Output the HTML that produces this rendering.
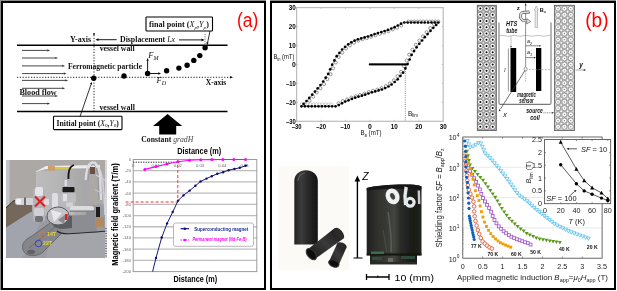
<!DOCTYPE html>
<html><head><meta charset="utf-8"><style>
html,body{margin:0;padding:0;background:#fff;}
body{width:617px;height:291px;overflow:hidden;font-family:"Liberation Sans",sans-serif;}
svg{display:block;will-change:transform;}
</style></head><body>
<svg width="617" height="291" viewBox="0 0 617 291">
<rect x="0" y="0" width="266" height="1" fill="#8c8c8c"/>
<rect x="270" y="0" width="346" height="1" fill="#8c8c8c"/>
<rect x="0" y="0" width="1" height="290" fill="#8c8c8c"/>
<rect x="2" y="2" width="263" height="287" fill="none" stroke="#000" stroke-width="2"/>
<rect x="271" y="2" width="344" height="287" fill="none" stroke="#000" stroke-width="2"/>
<text x="237" y="27.4" font-family="'Liberation Sans', sans-serif" font-size="19.6" fill="#ff0000" font-weight="normal" font-style="normal" text-anchor="start" textLength="21.3" lengthAdjust="spacingAndGlyphs" >(a)</text>
<rect x="146" y="17" width="66.5" height="14" rx="0.8" fill="#fff" stroke="#000" stroke-width="1.1"/>
<text x="149" y="27" font-family="'Liberation Serif', serif" font-size="7.6" font-weight="bold" fill="#111" textLength="60" lengthAdjust="spacingAndGlyphs">final point (<tspan font-style="italic" font-weight="normal">X</tspan><tspan font-size="5" dy="1.5" font-style="italic" font-weight="normal">p</tspan><tspan dy="-1.5">,</tspan><tspan font-style="italic" font-weight="normal">Y</tspan><tspan font-size="5" dy="1.5" font-style="italic" font-weight="normal">p</tspan><tspan dy="-1.5">)</tspan></text>
<text x="70" y="42" font-family="'Liberation Serif', serif" font-size="8" fill="#111" font-weight="bold" font-style="normal" text-anchor="start" textLength="21" lengthAdjust="spacingAndGlyphs" >Y-axis</text>
<line x1="94" y1="35" x2="94" y2="111" stroke="#222" stroke-width="1" stroke-dasharray="1.2,1.6"/>
<circle cx="94" cy="34" r="0.9" fill="#000"/>
<text x="120" y="41.6" font-family="'Liberation Serif', serif" font-size="7.8" font-weight="bold" fill="#111" textLength="55" lengthAdjust="spacingAndGlyphs">Displacement <tspan font-style="italic" font-weight="normal">Lx</tspan></text>
<line x1="98" y1="39.7" x2="116.7" y2="39.7" stroke="#000" stroke-width="0.9" />
<polygon points="95.50,39.70 98.50,38.30 98.50,41.10" fill="#000"/>
<line x1="179" y1="39.9" x2="202" y2="39.9" stroke="#000" stroke-width="0.9" />
<polygon points="204.50,39.90 201.50,41.30 201.50,38.50" fill="#000"/>
<line x1="205" y1="34" x2="205" y2="45" stroke="#333" stroke-width="0.8" stroke-dasharray="1,1.3"/>
<line x1="210" y1="31" x2="207.5" y2="43" stroke="#000" stroke-width="0.8" />
<polygon points="207.00,45.00 206.35,42.30 208.70,42.81" fill="#000"/>
<line x1="17" y1="45.2" x2="227.5" y2="45.2" stroke="#000" stroke-width="1.4" />
<line x1="17" y1="111.5" x2="227.5" y2="111.5" stroke="#000" stroke-width="1.4" />
<text x="99.7" y="50.8" font-family="'Liberation Serif', serif" font-size="7.9" fill="#111" font-weight="bold" font-style="normal" text-anchor="start" textLength="35" lengthAdjust="spacingAndGlyphs" >vessel wall</text>
<text x="99.4" y="109.6" font-family="'Liberation Serif', serif" font-size="7.9" fill="#111" font-weight="bold" font-style="normal" text-anchor="start" textLength="35.5" lengthAdjust="spacingAndGlyphs" >vessel wall</text>
<line x1="22" y1="50.4" x2="48" y2="50.4" stroke="#333" stroke-width="0.9" />
<polygon points="50.00,50.40 47.40,51.50 47.40,49.30" fill="#333"/>
<line x1="22" y1="58.0" x2="56" y2="58.0" stroke="#333" stroke-width="0.9" />
<polygon points="58.00,58.00 55.40,59.10 55.40,56.90" fill="#333"/>
<line x1="22" y1="65.9" x2="63" y2="65.9" stroke="#333" stroke-width="0.9" />
<polygon points="65.00,65.90 62.40,67.00 62.40,64.80" fill="#333"/>
<line x1="22" y1="73.6" x2="64.5" y2="73.6" stroke="#333" stroke-width="0.9" />
<polygon points="66.50,73.60 63.90,74.70 63.90,72.50" fill="#333"/>
<line x1="22" y1="80.4" x2="66" y2="80.4" stroke="#333" stroke-width="0.9" />
<polygon points="68.00,80.40 65.40,81.50 65.40,79.30" fill="#333"/>
<line x1="22" y1="88.3" x2="63" y2="88.3" stroke="#333" stroke-width="0.9" />
<polygon points="65.00,88.30 62.40,89.40 62.40,87.20" fill="#333"/>
<line x1="22" y1="96.0" x2="56" y2="96.0" stroke="#333" stroke-width="0.9" />
<polygon points="58.00,96.00 55.40,97.10 55.40,94.90" fill="#333"/>
<line x1="22" y1="103.6" x2="48" y2="103.6" stroke="#333" stroke-width="0.9" />
<polygon points="50.00,103.60 47.40,104.70 47.40,102.50" fill="#333"/>
<text x="68" y="69.4" font-family="'Liberation Serif', serif" font-size="7.9" fill="#111" font-weight="bold" font-style="normal" text-anchor="start" textLength="74" lengthAdjust="spacingAndGlyphs" >Ferromagnetic particle</text>
<line x1="17" y1="77.3" x2="230" y2="77.3" stroke="#222" stroke-width="1" stroke-dasharray="1.2,1.6"/>
<polygon points="233.00,77.30 230.00,78.60 230.00,76.00" fill="#000"/>
<text x="205.8" y="84.5" font-family="'Liberation Serif', serif" font-size="7.9" fill="#111" font-weight="bold" font-style="normal" text-anchor="start" textLength="20.5" lengthAdjust="spacingAndGlyphs" >X-axis</text>
<circle cx="93.7" cy="78.2" r="2.7" fill="#000"/>
<circle cx="124" cy="76" r="2.7" fill="#000"/>
<circle cx="147.6" cy="73.5" r="2.7" fill="#000"/>
<circle cx="166.6" cy="70.8" r="2.7" fill="#000"/>
<circle cx="178.9" cy="68.1" r="2.7" fill="#000"/>
<circle cx="187.1" cy="65.3" r="2.7" fill="#000"/>
<circle cx="193.8" cy="60.4" r="2.7" fill="#000"/>
<circle cx="199.8" cy="55.6" r="2.7" fill="#000"/>
<circle cx="205.1" cy="47.7" r="2.7" fill="#000"/>
<line x1="147.6" y1="73.5" x2="147.6" y2="60.5" stroke="#000" stroke-width="0.9" />
<polygon points="147.60,58.00 148.80,60.80 146.40,60.80" fill="#000"/>
<line x1="147.6" y1="73.5" x2="158.5" y2="73.5" stroke="#000" stroke-width="0.9" />
<polygon points="161.00,73.50 158.20,74.70 158.20,72.30" fill="#000"/>
<text x="148.3" y="58.3" font-family="'Liberation Serif', serif" font-size="8.4" font-style="italic" fill="#111">F<tspan font-size="6" dy="1.6">M</tspan></text>
<text x="156.6" y="83" font-family="'Liberation Serif', serif" font-size="8.4" font-style="italic" fill="#111">F<tspan font-size="6" dy="1.8">D</tspan></text>
<text x="19.4" y="94.7" font-family="'Liberation Serif', serif" font-size="7.9" fill="#111" font-weight="bold" font-style="normal" text-anchor="start" textLength="37.3" lengthAdjust="spacingAndGlyphs" >Blood flow</text>
<rect x="53.5" y="116.3" width="68.5" height="13.3" rx="0.8" fill="#fff" stroke="#000" stroke-width="1.1"/>
<text x="56.5" y="125.8" font-family="'Liberation Serif', serif" font-size="7.6" font-weight="bold" fill="#111" textLength="62.4" lengthAdjust="spacingAndGlyphs">Initial point (<tspan font-style="italic" font-weight="normal">X</tspan><tspan font-size="5" dy="1.5" font-style="italic" font-weight="normal">0</tspan><tspan dy="-1.5">,</tspan><tspan font-style="italic" font-weight="normal">Y</tspan><tspan font-size="5" dy="1.5" font-style="italic" font-weight="normal">0</tspan><tspan dy="-1.5">)</tspan></text>
<line x1="80" y1="116.5" x2="91" y2="84.5" stroke="#000" stroke-width="0.8" />
<polygon points="91.80,82.00 92.09,84.85 89.82,84.07" fill="#000"/>
<polygon points="167.6,114 182.2,125.9 176.2,125.9 176.2,134.6 159.2,134.6 159.2,125.9 153,125.9" fill="#000"/>
<text x="141.3" y="141.6" font-family="'Liberation Serif', serif" font-size="7.8" font-weight="bold" fill="#111" textLength="52" lengthAdjust="spacingAndGlyphs">Constant <tspan font-style="italic" font-weight="normal" fill="#444">gradH</tspan></text>
<line x1="133.2" y1="170.71" x2="256.8" y2="170.71" stroke="#bdbdbd" stroke-width="1.3" />
<line x1="133.2" y1="181.92000000000002" x2="256.8" y2="181.92000000000002" stroke="#bdbdbd" stroke-width="1.3" />
<line x1="133.2" y1="193.13" x2="256.8" y2="193.13" stroke="#bdbdbd" stroke-width="1.3" />
<line x1="133.2" y1="204.34" x2="256.8" y2="204.34" stroke="#bdbdbd" stroke-width="1.3" />
<line x1="133.2" y1="215.55" x2="256.8" y2="215.55" stroke="#bdbdbd" stroke-width="1.3" />
<line x1="133.2" y1="226.76000000000002" x2="256.8" y2="226.76000000000002" stroke="#bdbdbd" stroke-width="1.3" />
<line x1="133.2" y1="237.97000000000003" x2="256.8" y2="237.97000000000003" stroke="#bdbdbd" stroke-width="1.3" />
<line x1="133.2" y1="249.18" x2="256.8" y2="249.18" stroke="#bdbdbd" stroke-width="1.3" />
<line x1="133.2" y1="260.39000000000004" x2="256.8" y2="260.39000000000004" stroke="#bdbdbd" stroke-width="1.3" />
<rect x="133.2" y="159.5" width="123.60000000000002" height="112.10000000000002" fill="none" stroke="#9a9a9a" stroke-width="1"/>
<text x="131" y="161.0" font-family="'Liberation Sans', sans-serif" font-size="4.2" fill="#666" font-weight="normal" font-style="normal" text-anchor="end" >0</text>
<text x="131" y="172.21" font-family="'Liberation Sans', sans-serif" font-size="4.2" fill="#666" font-weight="normal" font-style="normal" text-anchor="end" >-20</text>
<text x="131" y="183.42000000000002" font-family="'Liberation Sans', sans-serif" font-size="4.2" fill="#666" font-weight="normal" font-style="normal" text-anchor="end" >-40</text>
<text x="131" y="194.63" font-family="'Liberation Sans', sans-serif" font-size="4.2" fill="#666" font-weight="normal" font-style="normal" text-anchor="end" >-60</text>
<text x="131" y="205.84" font-family="'Liberation Sans', sans-serif" font-size="4.2" fill="#666" font-weight="normal" font-style="normal" text-anchor="end" >-80</text>
<text x="131" y="217.05" font-family="'Liberation Sans', sans-serif" font-size="4.2" fill="#666" font-weight="normal" font-style="normal" text-anchor="end" >-100</text>
<text x="131" y="228.26000000000002" font-family="'Liberation Sans', sans-serif" font-size="4.2" fill="#666" font-weight="normal" font-style="normal" text-anchor="end" >-120</text>
<text x="131" y="239.47000000000003" font-family="'Liberation Sans', sans-serif" font-size="4.2" fill="#666" font-weight="normal" font-style="normal" text-anchor="end" >-140</text>
<text x="131" y="250.68" font-family="'Liberation Sans', sans-serif" font-size="4.2" fill="#666" font-weight="normal" font-style="normal" text-anchor="end" >-160</text>
<text x="131" y="261.89000000000004" font-family="'Liberation Sans', sans-serif" font-size="4.2" fill="#666" font-weight="normal" font-style="normal" text-anchor="end" >-180</text>
<text x="131" y="273.1" font-family="'Liberation Sans', sans-serif" font-size="4.2" fill="#666" font-weight="normal" font-style="normal" text-anchor="end" >-200</text>
<text x="133.2" y="166.8" font-family="'Liberation Sans', sans-serif" font-size="4.2" fill="#666" font-weight="normal" font-style="normal" text-anchor="middle" >0</text>
<text x="155.48" y="166.8" font-family="'Liberation Sans', sans-serif" font-size="4.2" fill="#666" font-weight="normal" font-style="normal" text-anchor="middle" >0.01</text>
<text x="177.76" y="166.8" font-family="'Liberation Sans', sans-serif" font-size="4.2" fill="#666" font-weight="normal" font-style="normal" text-anchor="middle" >0.02</text>
<text x="200.04" y="166.8" font-family="'Liberation Sans', sans-serif" font-size="4.2" fill="#666" font-weight="normal" font-style="normal" text-anchor="middle" >0.03</text>
<text x="222.32" y="166.8" font-family="'Liberation Sans', sans-serif" font-size="4.2" fill="#666" font-weight="normal" font-style="normal" text-anchor="middle" >0.04</text>
<text x="244.6" y="166.8" font-family="'Liberation Sans', sans-serif" font-size="4.2" fill="#666" font-weight="normal" font-style="normal" text-anchor="middle" >0.05</text>
<text x="177.2" y="154.3" font-family="'Liberation Sans', sans-serif" font-size="8.6" fill="#000" font-weight="bold" font-style="normal" text-anchor="start" textLength="44" lengthAdjust="spacingAndGlyphs" >Distance (m)</text>
<text x="173.6" y="282.3" font-family="'Liberation Sans', sans-serif" font-size="8.6" fill="#000" font-weight="bold" font-style="normal" text-anchor="start" textLength="43.5" lengthAdjust="spacingAndGlyphs" >Distance (m)</text>
<text transform="translate(117.8,265.8) rotate(-90)" font-family="'Liberation Sans', sans-serif" font-size="8.6" font-weight="bold" fill="#000" textLength="102.5" lengthAdjust="spacingAndGlyphs">Magnetic field gradient (T/m)</text>
<line x1="133.2" y1="162.2" x2="178" y2="162.2" stroke="#000" stroke-width="0.9" stroke-dasharray="1.2,1.3"/>
<line x1="177.8" y1="160" x2="177.8" y2="202" stroke="#ff3030" stroke-width="1" stroke-dasharray="3,2"/>
<line x1="125.6" y1="202" x2="178" y2="202" stroke="#ff3030" stroke-width="1.1" stroke-dasharray="3,2"/>
<polyline points="144.9,169.4 156,166.6 167,164 178,161.8 189.5,160.3 200.8,159.8 211.8,159.6 222.8,159.5 233.8,159.5 245.5,159.5" fill="none" stroke="#ff00ff" stroke-width="1.1"/>
<circle cx="144.9" cy="169.4" r="1.5" fill="#ff00ff"/>
<circle cx="156" cy="166.6" r="1.5" fill="#ff00ff"/>
<circle cx="167" cy="164" r="1.5" fill="#ff00ff"/>
<circle cx="178" cy="161.8" r="1.5" fill="#ff00ff"/>
<circle cx="189.5" cy="160.3" r="1.5" fill="#ff00ff"/>
<circle cx="200.8" cy="159.8" r="1.5" fill="#ff00ff"/>
<circle cx="211.8" cy="159.6" r="1.5" fill="#ff00ff"/>
<circle cx="222.8" cy="159.5" r="1.5" fill="#ff00ff"/>
<circle cx="233.8" cy="159.5" r="1.5" fill="#ff00ff"/>
<circle cx="245.5" cy="159.5" r="1.5" fill="#ff00ff"/>
<polyline points="152.6,271.6 156,257.9 161.7,237.5 167.1,223.4 172.7,212 178.1,200.6 183.4,195.4 189.7,190.6 195.4,185.8 200.5,181.5 206.5,178.6 211.8,176.2 217.3,173.8 223.1,172.2 228.6,170.2 234.4,168.9 239.8,167.8 245.5,165.8 247.5,165.2" fill="none" stroke="#1a1a80" stroke-width="1"/>
<circle cx="156" cy="257.9" r="1.2" fill="#10106a"/>
<circle cx="161.7" cy="237.5" r="1.2" fill="#10106a"/>
<circle cx="167.1" cy="223.4" r="1.2" fill="#10106a"/>
<circle cx="172.7" cy="212" r="1.2" fill="#10106a"/>
<circle cx="178.1" cy="200.6" r="1.2" fill="#10106a"/>
<circle cx="183.4" cy="195.4" r="1.2" fill="#10106a"/>
<circle cx="189.7" cy="190.6" r="1.2" fill="#10106a"/>
<circle cx="195.4" cy="185.8" r="1.2" fill="#10106a"/>
<circle cx="200.5" cy="181.5" r="1.2" fill="#10106a"/>
<circle cx="206.5" cy="178.6" r="1.2" fill="#10106a"/>
<circle cx="211.8" cy="176.2" r="1.2" fill="#10106a"/>
<circle cx="217.3" cy="173.8" r="1.2" fill="#10106a"/>
<circle cx="223.1" cy="172.2" r="1.2" fill="#10106a"/>
<circle cx="228.6" cy="170.2" r="1.2" fill="#10106a"/>
<circle cx="234.4" cy="168.9" r="1.2" fill="#10106a"/>
<circle cx="239.8" cy="167.8" r="1.2" fill="#10106a"/>
<circle cx="245.5" cy="165.8" r="1.2" fill="#10106a"/>
<rect x="173.5" y="223" width="80" height="23.3" rx="2" fill="#fff" stroke="#b0b0b0" stroke-width="0.9"/>
<line x1="180.5" y1="228.7" x2="189" y2="228.7" stroke="#1a1a80" stroke-width="1.2" />
<circle cx="184.8" cy="228.7" r="1.3" fill="#10106a"/>
<text x="194.2" y="230.8" font-family="'Liberation Sans', sans-serif" font-size="5.9" fill="#1a2a90" font-weight="bold" font-style="normal" text-anchor="start" textLength="54" lengthAdjust="spacingAndGlyphs" >Superconducting magnet</text>
<line x1="180.5" y1="240" x2="189" y2="240" stroke="#ff00ff" stroke-width="1.1" stroke-dasharray="1.5,1"/>
<circle cx="184.8" cy="240" r="1.3" fill="#ff00ff"/>
<text x="192.5" y="241.0" font-family="'Liberation Sans', sans-serif" font-size="5.3" fill="#ff00ff" font-weight="bold" font-style="italic" text-anchor="start" textLength="54" lengthAdjust="spacingAndGlyphs" >Permanent magnet (Nd-Fe-B)</text>
<defs><clipPath id="cpA"><rect x="6" y="160" width="101" height="98"/></clipPath><filter id="blA" x="-5%" y="-5%" width="110%" height="110%"><feGaussianBlur stdDeviation="0.6"/></filter><linearGradient id="gTable" x1="0" y1="0" x2="1" y2="1"><stop offset="0" stop-color="#a7a9b1"/><stop offset="1" stop-color="#9c9ea6"/></linearGradient><linearGradient id="gPanel" x1="0" y1="0" x2="1" y2="0"><stop offset="0" stop-color="#bcbcbc"/><stop offset="0.5" stop-color="#b4b4b4"/><stop offset="1" stop-color="#a6a6a6"/></linearGradient><linearGradient id="gFront" x1="0" y1="0" x2="0" y2="1"><stop offset="0" stop-color="#9fa1a7"/><stop offset="1" stop-color="#a6a8ae"/></linearGradient></defs>
<g clip-path="url(#cpA)"><g filter="url(#blA)">
<rect x="4" y="158" width="106" height="104" fill="#aca8a6"/>
<rect x="4" y="158" width="5.5" height="52" fill="#c3c4cc"/>
<rect x="4" y="158" width="106" height="2" fill="#8a8888"/>
<polygon points="4,209 14,200 18,201 8,210" fill="#3a2e26"/>
<polygon points="4,210 14,201 32,201 32,212 4,230" fill="#74685a"/>
<polygon points="4,229 30,212.5 60,207 108,204 108,262 4,262" fill="#9a9ca4"/>
<polygon points="4,229 30,212.5 45,210 35,235 20,262 4,262" fill="#a2a4ad"/>
<polygon points="50,240 60,233 108,232 108,262 45,262" fill="#a3a5ab"/>
<path d="M23,250 C21,243 26,239 32,236 L61,215 L73,222 L45,250 C40,257 26,258 23,250 Z" fill="#84868c" stroke="#5c5e62" stroke-width="0.8"/>
<path d="M29,248 L61,222" stroke="#6a6c70" stroke-width="1"/>
<ellipse cx="31" cy="252" rx="4" ry="2.3" fill="#606266"/>
<polygon points="58,212 95,210 97,232 62,234" fill="#8c8d92"/>
<path d="M57,231 C62,236 80,233 108,231" fill="none" stroke="#2a2a2c" stroke-width="1.1"/>
<path d="M52,222 C52,217 58,214 66,215 L72,216 L72,228 L62,229 C55,228 52,226 52,222 Z" fill="#5a5c60"/>
<polygon points="36,171 86,169 86,215 36,216" fill="url(#gPanel)"/>
<polygon points="35,172 46,166 100,165 100,168 46,169" fill="#ececec"/>
<rect x="48" y="165.8" width="7" height="5" fill="#c8a070"/>
<rect x="55" y="167" width="15" height="2.5" fill="#d6c84a"/>
<path d="M86,196 C85,180 86,166 91,163 C96,161 99,166 100,175 L101,200" fill="none" stroke="#dcdce6" stroke-width="2.4"/>
<path d="M88,196 C88,180 88,168 92,165 C95,164 97,168 98,176 L99,200" fill="none" stroke="#8e8e96" stroke-width="0.8"/>
<rect x="90" y="167" width="5" height="7" fill="#6a5040"/>
<path d="M100,170 C103,175 104,190 105,215" fill="none" stroke="#d0d0d8" stroke-width="1.6"/>
<path d="M96,175 L108,182" stroke="#d4d4da" stroke-width="1.2"/>
<path d="M95,190 L108,195" stroke="#c8c8ce" stroke-width="1"/>
<rect x="105" y="160" width="3" height="98" fill="#d6d6d8"/>
<rect x="15" y="198" width="20" height="7" rx="3" fill="#d4d4d8"/>
<rect x="16" y="199" width="5" height="5" rx="1" fill="#f2f2f4"/>
<rect x="24" y="197.5" width="2" height="8" fill="#6a6a6e"/>
<rect x="33" y="188" width="12" height="34" rx="3" fill="#b4b4b8"/>
<rect x="35" y="187" width="8" height="9" rx="2" fill="#e4e4e8"/>
<rect x="34" y="208" width="10" height="8" rx="2" fill="#d0d0d4"/>
<rect x="35" y="216" width="8" height="6" rx="2" fill="#707074"/>
<rect x="44" y="199" width="8" height="6" rx="2" fill="#dcdce0"/>
<rect x="49" y="194" width="26" height="21" rx="3" fill="#b8b8bc"/>
<rect x="52" y="193" width="6" height="16" rx="2" fill="#dedee2"/>
<rect x="66" y="195" width="7" height="12" rx="2" fill="#d2d2d6"/>
<ellipse cx="58" cy="216" rx="11" ry="9" fill="#c4c4c8" stroke="#5c5c60" stroke-width="1"/>
<polygon points="51,210 62,213 54,222" fill="#e8e8ec"/>
<polygon points="58,220 66,214 64,224" fill="#8a8a8e"/>
<rect x="70" y="206" width="24" height="5.5" rx="2.5" fill="#dcdce0"/>
<rect x="70" y="210.5" width="24" height="1.2" fill="#707074"/>
<rect x="96" y="207" width="4" height="10" fill="#1e1e1e"/>
<rect x="95" y="217" width="9" height="10" fill="#b08a60"/>
<rect x="83" y="180" width="6" height="26" rx="2" fill="#a8a8ac"/>
<path d="M74,165 C70,166 68,172 68.5,180" fill="none" stroke="#151515" stroke-width="1.8"/>
<rect x="63" y="179" width="11" height="8.5" rx="1.5" fill="#b0b0b4"/>
<rect x="64.5" y="180" width="2.5" height="6" fill="#dcdce0"/>
<rect x="62.5" y="187" width="12" height="5.5" rx="1" fill="#1c1c1e"/>
<rect x="61" y="192.5" width="15" height="10" rx="2" fill="#bebec2"/>
<rect x="63" y="194" width="4" height="7" fill="#e2e2e6"/>
<path d="M35,196.5 L45,206.5 M45,196.5 L35,206.5" stroke="#e01c1c" stroke-width="2"/>
<rect x="65" y="214" width="2.6" height="6" fill="#e01c1c"/>
<circle cx="42.5" cy="234.7" r="3" fill="none" stroke="#e07a30" stroke-width="0.8"/>
<circle cx="38.5" cy="243.5" r="3.3" fill="none" stroke="#2838d8" stroke-width="0.8"/>
<text x="47" y="236.3" font-family="'Liberation Sans', sans-serif" font-size="5.2" font-weight="bold" fill="#e8d838">14T</text>
<text x="43" y="245.3" font-family="'Liberation Sans', sans-serif" font-size="5.2" font-weight="bold" fill="#e8d838">22T</text>
</g></g>
<line x1="106" y1="228" x2="106" y2="257" stroke="#222" stroke-width="1" stroke-dasharray="1,1.5"/>
<rect x="296.6" y="7.6" width="146.6" height="113.7" fill="none" stroke="#bcbcbc" stroke-width="1.2"/>
<line x1="321.03999999999996" y1="7.550000000000004" x2="321.03999999999996" y2="9.050000000000004" stroke="#bcbcbc" stroke-width="0.8" />
<line x1="321.03999999999996" y1="121.25" x2="321.03999999999996" y2="119.75" stroke="#bcbcbc" stroke-width="0.8" />
<line x1="296.60999999999996" y1="102.30000000000001" x2="298.10999999999996" y2="102.30000000000001" stroke="#bcbcbc" stroke-width="0.8" />
<line x1="443.19" y1="102.30000000000001" x2="441.69" y2="102.30000000000001" stroke="#bcbcbc" stroke-width="0.8" />
<line x1="345.46999999999997" y1="7.550000000000004" x2="345.46999999999997" y2="9.050000000000004" stroke="#bcbcbc" stroke-width="0.8" />
<line x1="345.46999999999997" y1="121.25" x2="345.46999999999997" y2="119.75" stroke="#bcbcbc" stroke-width="0.8" />
<line x1="296.60999999999996" y1="83.35000000000001" x2="298.10999999999996" y2="83.35000000000001" stroke="#bcbcbc" stroke-width="0.8" />
<line x1="443.19" y1="83.35000000000001" x2="441.69" y2="83.35000000000001" stroke="#bcbcbc" stroke-width="0.8" />
<line x1="369.9" y1="7.550000000000004" x2="369.9" y2="9.050000000000004" stroke="#bcbcbc" stroke-width="0.8" />
<line x1="369.9" y1="121.25" x2="369.9" y2="119.75" stroke="#bcbcbc" stroke-width="0.8" />
<line x1="296.60999999999996" y1="64.4" x2="298.10999999999996" y2="64.4" stroke="#bcbcbc" stroke-width="0.8" />
<line x1="443.19" y1="64.4" x2="441.69" y2="64.4" stroke="#bcbcbc" stroke-width="0.8" />
<line x1="394.33" y1="7.550000000000004" x2="394.33" y2="9.050000000000004" stroke="#bcbcbc" stroke-width="0.8" />
<line x1="394.33" y1="121.25" x2="394.33" y2="119.75" stroke="#bcbcbc" stroke-width="0.8" />
<line x1="296.60999999999996" y1="45.45" x2="298.10999999999996" y2="45.45" stroke="#bcbcbc" stroke-width="0.8" />
<line x1="443.19" y1="45.45" x2="441.69" y2="45.45" stroke="#bcbcbc" stroke-width="0.8" />
<line x1="418.76" y1="7.550000000000004" x2="418.76" y2="9.050000000000004" stroke="#bcbcbc" stroke-width="0.8" />
<line x1="418.76" y1="121.25" x2="418.76" y2="119.75" stroke="#bcbcbc" stroke-width="0.8" />
<line x1="296.60999999999996" y1="26.500000000000007" x2="298.10999999999996" y2="26.500000000000007" stroke="#bcbcbc" stroke-width="0.8" />
<line x1="443.19" y1="26.500000000000007" x2="441.69" y2="26.500000000000007" stroke="#bcbcbc" stroke-width="0.8" />
<text x="295.8" y="10.150000000000004" font-family="'Liberation Sans', sans-serif" font-size="7.2" fill="#000" font-weight="bold" font-style="normal" text-anchor="end" textLength="7.0" lengthAdjust="spacingAndGlyphs" >30</text>
<text x="295.8" y="29.10000000000001" font-family="'Liberation Sans', sans-serif" font-size="7.2" fill="#000" font-weight="bold" font-style="normal" text-anchor="end" textLength="7.0" lengthAdjust="spacingAndGlyphs" >20</text>
<text x="295.8" y="48.050000000000004" font-family="'Liberation Sans', sans-serif" font-size="7.2" fill="#000" font-weight="bold" font-style="normal" text-anchor="end" textLength="7.0" lengthAdjust="spacingAndGlyphs" >10</text>
<text x="295.8" y="67.0" font-family="'Liberation Sans', sans-serif" font-size="7.2" fill="#000" font-weight="bold" font-style="normal" text-anchor="end" textLength="3.8" lengthAdjust="spacingAndGlyphs" >0</text>
<text x="295.8" y="85.95" font-family="'Liberation Sans', sans-serif" font-size="7.2" fill="#000" font-weight="bold" font-style="normal" text-anchor="end" textLength="9.8" lengthAdjust="spacingAndGlyphs" >&#8211;10</text>
<text x="295.8" y="104.9" font-family="'Liberation Sans', sans-serif" font-size="7.2" fill="#000" font-weight="bold" font-style="normal" text-anchor="end" textLength="9.8" lengthAdjust="spacingAndGlyphs" >&#8211;20</text>
<text x="295.8" y="123.85" font-family="'Liberation Sans', sans-serif" font-size="7.2" fill="#000" font-weight="bold" font-style="normal" text-anchor="end" textLength="9.8" lengthAdjust="spacingAndGlyphs" >&#8211;30</text>
<text x="296.60999999999996" y="129.3" font-family="'Liberation Sans', sans-serif" font-size="7.2" fill="#000" font-weight="bold" font-style="normal" text-anchor="middle" textLength="9.8" lengthAdjust="spacingAndGlyphs" >&#8211;30</text>
<text x="321.03999999999996" y="129.3" font-family="'Liberation Sans', sans-serif" font-size="7.2" fill="#000" font-weight="bold" font-style="normal" text-anchor="middle" textLength="9.8" lengthAdjust="spacingAndGlyphs" >&#8211;20</text>
<text x="345.46999999999997" y="129.3" font-family="'Liberation Sans', sans-serif" font-size="7.2" fill="#000" font-weight="bold" font-style="normal" text-anchor="middle" textLength="9.8" lengthAdjust="spacingAndGlyphs" >&#8211;10</text>
<text x="369.9" y="129.3" font-family="'Liberation Sans', sans-serif" font-size="7.2" fill="#000" font-weight="bold" font-style="normal" text-anchor="middle" textLength="3.8" lengthAdjust="spacingAndGlyphs" >0</text>
<text x="394.33" y="129.3" font-family="'Liberation Sans', sans-serif" font-size="7.2" fill="#000" font-weight="bold" font-style="normal" text-anchor="middle" textLength="7.0" lengthAdjust="spacingAndGlyphs" >10</text>
<text x="418.76" y="129.3" font-family="'Liberation Sans', sans-serif" font-size="7.2" fill="#000" font-weight="bold" font-style="normal" text-anchor="middle" textLength="7.0" lengthAdjust="spacingAndGlyphs" >20</text>
<text x="443.19" y="129.3" font-family="'Liberation Sans', sans-serif" font-size="7.2" fill="#000" font-weight="bold" font-style="normal" text-anchor="middle" textLength="7.0" lengthAdjust="spacingAndGlyphs" >30</text>
<text x="273.4" y="59.2" font-family="'Liberation Sans', sans-serif" font-size="6.6" fill="#111" textLength="21" lengthAdjust="spacingAndGlyphs">B<tspan font-size="4.5" dy="1.8">in</tspan><tspan dy="-1.8"> (mT)</tspan></text>
<text x="360.5" y="135" font-family="'Liberation Sans', sans-serif" font-size="6.6" fill="#111" textLength="21" lengthAdjust="spacingAndGlyphs">B<tspan font-size="4.5" dy="1.8">a</tspan><tspan dy="-1.8"> (mT)</tspan></text>
<line x1="405.32349999999997" y1="64.4" x2="405.32349999999997" y2="121.25" stroke="#555" stroke-width="0.7" stroke-dasharray="1,1.2"/>
<text x="408" y="115.5" font-family="'Liberation Sans', sans-serif" font-size="6.5" fill="#111">B<tspan font-size="4.5" dy="1.8">lim</tspan></text>
<polyline points="438.3,22.5 403.1,22.5 395.8,26.7 385.5,30.9 375.3,33.9 367.2,36.7 356.7,39.6 349.6,43.2 342.8,48.7 336.2,56.8 331.8,65.5 328.6,73.3 321.8,83.5 315.2,91.3 308.3,99.1 301.7,105.7" fill="none" stroke="#777" stroke-width="0.6"/>
<polyline points="301.5,106.3 336.7,106.3 344.0,102.1 354.3,97.9 364.5,94.9 372.6,92.1 383.1,89.2 390.2,85.6 397.0,80.1 403.6,72.0 408.0,63.3 411.2,55.5 418.0,45.3 424.6,37.5 431.5,29.7 438.1,23.1" fill="none" stroke="#777" stroke-width="0.6"/>
<circle cx="438.3" cy="21.5" r="1.5" fill="#fff" stroke="#555" stroke-width="0.55"/>
<circle cx="435.3" cy="21.5" r="1.5" fill="#fff" stroke="#555" stroke-width="0.55"/>
<circle cx="432.3" cy="21.5" r="1.5" fill="#fff" stroke="#555" stroke-width="0.55"/>
<circle cx="429.3" cy="21.5" r="1.5" fill="#fff" stroke="#555" stroke-width="0.55"/>
<circle cx="426.3" cy="21.5" r="1.5" fill="#fff" stroke="#555" stroke-width="0.55"/>
<circle cx="423.3" cy="21.5" r="1.5" fill="#fff" stroke="#555" stroke-width="0.55"/>
<circle cx="420.3" cy="21.5" r="1.5" fill="#fff" stroke="#555" stroke-width="0.55"/>
<circle cx="417.3" cy="21.5" r="1.5" fill="#fff" stroke="#555" stroke-width="0.55"/>
<circle cx="414.3" cy="21.5" r="1.5" fill="#fff" stroke="#555" stroke-width="0.55"/>
<circle cx="411.3" cy="21.5" r="1.5" fill="#fff" stroke="#555" stroke-width="0.55"/>
<circle cx="408.3" cy="21.5" r="1.5" fill="#fff" stroke="#555" stroke-width="0.55"/>
<circle cx="401.2" cy="25.5" r="1.55" fill="#fff" stroke="#555" stroke-width="0.6"/>
<circle cx="397.0" cy="27.7" r="1.55" fill="#fff" stroke="#555" stroke-width="0.6"/>
<circle cx="392.7" cy="29.4" r="1.55" fill="#fff" stroke="#555" stroke-width="0.6"/>
<circle cx="388.4" cy="31.2" r="1.55" fill="#fff" stroke="#555" stroke-width="0.6"/>
<circle cx="384.1" cy="32.5" r="1.55" fill="#fff" stroke="#555" stroke-width="0.6"/>
<circle cx="379.8" cy="33.8" r="1.55" fill="#fff" stroke="#555" stroke-width="0.6"/>
<circle cx="375.4" cy="35.2" r="1.55" fill="#fff" stroke="#555" stroke-width="0.6"/>
<circle cx="371.1" cy="36.7" r="1.55" fill="#fff" stroke="#555" stroke-width="0.6"/>
<circle cx="366.8" cy="38.0" r="1.55" fill="#fff" stroke="#555" stroke-width="0.6"/>
<circle cx="362.5" cy="39.2" r="1.55" fill="#fff" stroke="#555" stroke-width="0.6"/>
<circle cx="358.2" cy="40.6" r="1.55" fill="#fff" stroke="#555" stroke-width="0.6"/>
<circle cx="353.9" cy="42.7" r="1.55" fill="#fff" stroke="#555" stroke-width="0.6"/>
<circle cx="349.9" cy="45.4" r="1.55" fill="#fff" stroke="#555" stroke-width="0.6"/>
<circle cx="345.9" cy="48.5" r="1.55" fill="#fff" stroke="#555" stroke-width="0.6"/>
<circle cx="342.3" cy="52.6" r="1.55" fill="#fff" stroke="#555" stroke-width="0.6"/>
<circle cx="338.7" cy="57.0" r="1.55" fill="#fff" stroke="#555" stroke-width="0.6"/>
<circle cx="335.8" cy="62.5" r="1.55" fill="#fff" stroke="#555" stroke-width="0.6"/>
<circle cx="333.1" cy="68.3" r="1.55" fill="#fff" stroke="#555" stroke-width="0.6"/>
<circle cx="330.6" cy="74.2" r="1.55" fill="#fff" stroke="#555" stroke-width="0.6"/>
<circle cx="327.3" cy="79.1" r="1.55" fill="#fff" stroke="#555" stroke-width="0.6"/>
<circle cx="324.0" cy="84.0" r="1.55" fill="#fff" stroke="#555" stroke-width="0.6"/>
<circle cx="320.4" cy="88.3" r="1.55" fill="#fff" stroke="#555" stroke-width="0.6"/>
<circle cx="316.8" cy="92.5" r="1.55" fill="#fff" stroke="#555" stroke-width="0.6"/>
<circle cx="313.2" cy="96.6" r="1.55" fill="#fff" stroke="#555" stroke-width="0.6"/>
<circle cx="309.5" cy="100.7" r="1.55" fill="#fff" stroke="#555" stroke-width="0.6"/>
<circle cx="305.8" cy="104.5" r="1.55" fill="#fff" stroke="#555" stroke-width="0.6"/>
<circle cx="301.5" cy="104.3" r="1.5" fill="#fff" stroke="#aaa" stroke-width="0.55"/>
<circle cx="304.5" cy="104.3" r="1.5" fill="#fff" stroke="#aaa" stroke-width="0.55"/>
<circle cx="307.5" cy="104.3" r="1.5" fill="#fff" stroke="#aaa" stroke-width="0.55"/>
<circle cx="310.5" cy="104.3" r="1.5" fill="#fff" stroke="#aaa" stroke-width="0.55"/>
<circle cx="313.5" cy="104.3" r="1.5" fill="#fff" stroke="#aaa" stroke-width="0.55"/>
<circle cx="316.5" cy="104.3" r="1.5" fill="#fff" stroke="#aaa" stroke-width="0.55"/>
<circle cx="319.5" cy="104.3" r="1.5" fill="#fff" stroke="#aaa" stroke-width="0.55"/>
<circle cx="322.5" cy="104.3" r="1.5" fill="#fff" stroke="#aaa" stroke-width="0.55"/>
<circle cx="325.5" cy="104.3" r="1.5" fill="#fff" stroke="#aaa" stroke-width="0.55"/>
<circle cx="328.5" cy="104.3" r="1.5" fill="#fff" stroke="#aaa" stroke-width="0.55"/>
<circle cx="331.5" cy="104.3" r="1.5" fill="#fff" stroke="#aaa" stroke-width="0.55"/>
<circle cx="338.6" cy="103.3" r="1.55" fill="#fff" stroke="#555" stroke-width="0.6"/>
<circle cx="342.8" cy="101.1" r="1.55" fill="#fff" stroke="#555" stroke-width="0.6"/>
<circle cx="347.1" cy="99.4" r="1.55" fill="#fff" stroke="#555" stroke-width="0.6"/>
<circle cx="351.4" cy="97.6" r="1.55" fill="#fff" stroke="#555" stroke-width="0.6"/>
<circle cx="355.7" cy="96.3" r="1.55" fill="#fff" stroke="#555" stroke-width="0.6"/>
<circle cx="360.0" cy="95.0" r="1.55" fill="#fff" stroke="#555" stroke-width="0.6"/>
<circle cx="364.4" cy="93.6" r="1.55" fill="#fff" stroke="#555" stroke-width="0.6"/>
<circle cx="368.7" cy="92.1" r="1.55" fill="#fff" stroke="#555" stroke-width="0.6"/>
<circle cx="373.0" cy="90.8" r="1.55" fill="#fff" stroke="#555" stroke-width="0.6"/>
<circle cx="377.3" cy="89.6" r="1.55" fill="#fff" stroke="#555" stroke-width="0.6"/>
<circle cx="381.6" cy="88.2" r="1.55" fill="#fff" stroke="#555" stroke-width="0.6"/>
<circle cx="385.9" cy="86.1" r="1.55" fill="#fff" stroke="#555" stroke-width="0.6"/>
<circle cx="389.9" cy="83.4" r="1.55" fill="#fff" stroke="#555" stroke-width="0.6"/>
<circle cx="393.9" cy="80.3" r="1.55" fill="#fff" stroke="#555" stroke-width="0.6"/>
<circle cx="397.5" cy="76.2" r="1.55" fill="#fff" stroke="#555" stroke-width="0.6"/>
<circle cx="401.1" cy="71.8" r="1.55" fill="#fff" stroke="#555" stroke-width="0.6"/>
<circle cx="404.0" cy="66.3" r="1.55" fill="#fff" stroke="#555" stroke-width="0.6"/>
<circle cx="406.7" cy="60.5" r="1.55" fill="#fff" stroke="#555" stroke-width="0.6"/>
<circle cx="409.2" cy="54.6" r="1.55" fill="#fff" stroke="#555" stroke-width="0.6"/>
<circle cx="412.5" cy="49.7" r="1.55" fill="#fff" stroke="#555" stroke-width="0.6"/>
<circle cx="415.8" cy="44.8" r="1.55" fill="#fff" stroke="#555" stroke-width="0.6"/>
<circle cx="419.4" cy="40.5" r="1.55" fill="#fff" stroke="#555" stroke-width="0.6"/>
<circle cx="423.0" cy="36.3" r="1.55" fill="#fff" stroke="#555" stroke-width="0.6"/>
<circle cx="426.6" cy="32.2" r="1.55" fill="#fff" stroke="#555" stroke-width="0.6"/>
<circle cx="430.3" cy="28.1" r="1.55" fill="#fff" stroke="#555" stroke-width="0.6"/>
<circle cx="434.0" cy="24.3" r="1.55" fill="#fff" stroke="#555" stroke-width="0.6"/>
<circle cx="438.3" cy="22.5" r="1.35" fill="#000"/>
<circle cx="434.9" cy="22.5" r="1.35" fill="#000"/>
<circle cx="431.5" cy="22.5" r="1.35" fill="#000"/>
<circle cx="428.1" cy="22.5" r="1.35" fill="#000"/>
<circle cx="424.7" cy="22.5" r="1.35" fill="#000"/>
<circle cx="421.3" cy="22.5" r="1.35" fill="#000"/>
<circle cx="417.9" cy="22.5" r="1.35" fill="#000"/>
<circle cx="414.5" cy="22.5" r="1.35" fill="#000"/>
<circle cx="411.1" cy="22.5" r="1.35" fill="#000"/>
<circle cx="407.7" cy="22.5" r="1.35" fill="#000"/>
<circle cx="404.3" cy="22.5" r="1.35" fill="#000"/>
<circle cx="401.0" cy="23.7" r="1.35" fill="#000"/>
<circle cx="397.8" cy="25.5" r="1.35" fill="#000"/>
<circle cx="394.6" cy="27.2" r="1.35" fill="#000"/>
<circle cx="391.3" cy="28.5" r="1.35" fill="#000"/>
<circle cx="387.9" cy="29.9" r="1.35" fill="#000"/>
<circle cx="384.6" cy="31.1" r="1.35" fill="#000"/>
<circle cx="381.3" cy="32.1" r="1.35" fill="#000"/>
<circle cx="377.9" cy="33.1" r="1.35" fill="#000"/>
<circle cx="374.6" cy="34.1" r="1.35" fill="#000"/>
<circle cx="371.3" cy="35.3" r="1.35" fill="#000"/>
<circle cx="367.9" cy="36.5" r="1.35" fill="#000"/>
<circle cx="364.6" cy="37.4" r="1.35" fill="#000"/>
<circle cx="361.2" cy="38.4" r="1.35" fill="#000"/>
<circle cx="357.9" cy="39.3" r="1.35" fill="#000"/>
<circle cx="354.6" cy="40.7" r="1.35" fill="#000"/>
<circle cx="351.3" cy="42.3" r="1.35" fill="#000"/>
<circle cx="348.2" cy="44.3" r="1.35" fill="#000"/>
<circle cx="345.1" cy="46.8" r="1.35" fill="#000"/>
<circle cx="342.1" cy="49.5" r="1.35" fill="#000"/>
<circle cx="339.4" cy="52.9" r="1.35" fill="#000"/>
<circle cx="336.7" cy="56.2" r="1.35" fill="#000"/>
<circle cx="334.4" cy="60.4" r="1.35" fill="#000"/>
<circle cx="332.2" cy="64.7" r="1.35" fill="#000"/>
<circle cx="330.2" cy="69.3" r="1.35" fill="#000"/>
<circle cx="328.2" cy="73.9" r="1.35" fill="#000"/>
<circle cx="325.7" cy="77.7" r="1.35" fill="#000"/>
<circle cx="323.2" cy="81.5" r="1.35" fill="#000"/>
<circle cx="320.5" cy="85.0" r="1.35" fill="#000"/>
<circle cx="317.7" cy="88.3" r="1.35" fill="#000"/>
<circle cx="315.0" cy="91.6" r="1.35" fill="#000"/>
<circle cx="312.2" cy="94.7" r="1.35" fill="#000"/>
<circle cx="309.3" cy="97.9" r="1.35" fill="#000"/>
<circle cx="306.5" cy="101.0" r="1.35" fill="#000"/>
<circle cx="303.6" cy="103.9" r="1.35" fill="#000"/>
<circle cx="301.5" cy="106.3" r="1.35" fill="#000"/>
<circle cx="304.9" cy="106.3" r="1.35" fill="#000"/>
<circle cx="308.3" cy="106.3" r="1.35" fill="#000"/>
<circle cx="311.7" cy="106.3" r="1.35" fill="#000"/>
<circle cx="315.1" cy="106.3" r="1.35" fill="#000"/>
<circle cx="318.5" cy="106.3" r="1.35" fill="#000"/>
<circle cx="321.9" cy="106.3" r="1.35" fill="#000"/>
<circle cx="325.3" cy="106.3" r="1.35" fill="#000"/>
<circle cx="328.7" cy="106.3" r="1.35" fill="#000"/>
<circle cx="332.1" cy="106.3" r="1.35" fill="#000"/>
<circle cx="335.5" cy="106.3" r="1.35" fill="#000"/>
<circle cx="338.8" cy="105.1" r="1.35" fill="#000"/>
<circle cx="342.0" cy="103.3" r="1.35" fill="#000"/>
<circle cx="345.2" cy="101.6" r="1.35" fill="#000"/>
<circle cx="348.5" cy="100.3" r="1.35" fill="#000"/>
<circle cx="351.9" cy="98.9" r="1.35" fill="#000"/>
<circle cx="355.2" cy="97.7" r="1.35" fill="#000"/>
<circle cx="358.5" cy="96.7" r="1.35" fill="#000"/>
<circle cx="361.9" cy="95.7" r="1.35" fill="#000"/>
<circle cx="365.2" cy="94.7" r="1.35" fill="#000"/>
<circle cx="368.5" cy="93.5" r="1.35" fill="#000"/>
<circle cx="371.9" cy="92.3" r="1.35" fill="#000"/>
<circle cx="375.2" cy="91.4" r="1.35" fill="#000"/>
<circle cx="378.6" cy="90.4" r="1.35" fill="#000"/>
<circle cx="381.9" cy="89.5" r="1.35" fill="#000"/>
<circle cx="385.2" cy="88.1" r="1.35" fill="#000"/>
<circle cx="388.5" cy="86.5" r="1.35" fill="#000"/>
<circle cx="391.6" cy="84.5" r="1.35" fill="#000"/>
<circle cx="394.7" cy="82.0" r="1.35" fill="#000"/>
<circle cx="397.7" cy="79.3" r="1.35" fill="#000"/>
<circle cx="400.4" cy="75.9" r="1.35" fill="#000"/>
<circle cx="403.1" cy="72.6" r="1.35" fill="#000"/>
<circle cx="405.4" cy="68.4" r="1.35" fill="#000"/>
<circle cx="407.6" cy="64.1" r="1.35" fill="#000"/>
<circle cx="409.6" cy="59.5" r="1.35" fill="#000"/>
<circle cx="411.6" cy="54.9" r="1.35" fill="#000"/>
<circle cx="414.1" cy="51.1" r="1.35" fill="#000"/>
<circle cx="416.6" cy="47.3" r="1.35" fill="#000"/>
<circle cx="419.3" cy="43.8" r="1.35" fill="#000"/>
<circle cx="422.1" cy="40.5" r="1.35" fill="#000"/>
<circle cx="424.8" cy="37.2" r="1.35" fill="#000"/>
<circle cx="427.6" cy="34.1" r="1.35" fill="#000"/>
<circle cx="430.5" cy="30.9" r="1.35" fill="#000"/>
<circle cx="433.3" cy="27.8" r="1.35" fill="#000"/>
<circle cx="436.2" cy="24.9" r="1.35" fill="#000"/>
<circle cx="369.9" cy="64.4" r="1.15" fill="#000"/>
<circle cx="371.4" cy="64.4" r="1.15" fill="#000"/>
<circle cx="372.9" cy="64.4" r="1.15" fill="#000"/>
<circle cx="374.4" cy="64.4" r="1.15" fill="#000"/>
<circle cx="375.9" cy="64.4" r="1.15" fill="#000"/>
<circle cx="377.4" cy="64.4" r="1.15" fill="#000"/>
<circle cx="378.9" cy="64.4" r="1.15" fill="#000"/>
<circle cx="380.4" cy="64.4" r="1.15" fill="#000"/>
<circle cx="381.9" cy="64.4" r="1.15" fill="#000"/>
<circle cx="383.4" cy="64.4" r="1.15" fill="#000"/>
<circle cx="384.9" cy="64.4" r="1.15" fill="#000"/>
<circle cx="386.4" cy="64.4" r="1.15" fill="#000"/>
<circle cx="387.9" cy="64.4" r="1.15" fill="#000"/>
<circle cx="389.4" cy="64.4" r="1.15" fill="#000"/>
<circle cx="390.9" cy="64.4" r="1.15" fill="#000"/>
<circle cx="392.4" cy="64.4" r="1.15" fill="#000"/>
<circle cx="393.9" cy="64.4" r="1.15" fill="#000"/>
<circle cx="395.4" cy="64.4" r="1.15" fill="#000"/>
<circle cx="396.9" cy="64.4" r="1.15" fill="#000"/>
<circle cx="398.4" cy="64.4" r="1.15" fill="#000"/>
<circle cx="399.9" cy="64.4" r="1.15" fill="#000"/>
<circle cx="401.4" cy="64.4" r="1.15" fill="#000"/>
<circle cx="402.9" cy="64.4" r="1.15" fill="#000"/>
<circle cx="404.4" cy="64.4" r="1.15" fill="#000"/>
<circle cx="405.9" cy="64.4" r="1.15" fill="#000"/>
<defs><pattern id="stip" width="2" height="2" patternUnits="userSpaceOnUse"><rect width="2" height="2" fill="#fff"/><rect width="1" height="1" fill="#a8a8a8"/><rect x="1" y="1" width="1" height="1" fill="#a8a8a8"/></pattern><pattern id="stip2" width="2" height="2" patternUnits="userSpaceOnUse"><rect width="2" height="2" fill="#fff"/><rect width="1" height="1" fill="#b8b8b8"/><rect x="1" y="1" width="1" height="1" fill="#b8b8b8"/></pattern><pattern id="hexp" width="6.2" height="5.4" patternUnits="userSpaceOnUse" x="555" y="5"><rect width="6.2" height="5.4" fill="#d8d8d8"/><circle cx="1.55" cy="1.35" r="1.35" fill="#fff" stroke="#777" stroke-width="0.55"/><circle cx="4.65" cy="4.05" r="1.35" fill="#fff" stroke="#777" stroke-width="0.55"/><circle cx="1.55" cy="1.35" r="0.4" fill="#999"/><circle cx="4.65" cy="4.05" r="0.4" fill="#999"/></pattern></defs>
<rect x="477.3" y="5.3" width="19" height="125.3" fill="#b4b4b4" stroke="#555" stroke-width="0.8"/>
<circle cx="480.3" cy="8.60" r="2.7" fill="#fff" stroke="#444" stroke-width="0.5"/>
<circle cx="480.3" cy="8.60" r="1.0" fill="#000"/>
<circle cx="486.5" cy="8.60" r="2.7" fill="#fff" stroke="#444" stroke-width="0.5"/>
<circle cx="486.5" cy="8.60" r="1.0" fill="#000"/>
<circle cx="492.7" cy="8.60" r="2.7" fill="#fff" stroke="#444" stroke-width="0.5"/>
<circle cx="492.7" cy="8.60" r="1.0" fill="#000"/>
<rect x="482.8" y="11.11" width="1.2" height="1.2" fill="#f0f0f0"/>
<rect x="489.0" y="11.11" width="1.2" height="1.2" fill="#f0f0f0"/>
<circle cx="480.3" cy="14.82" r="2.7" fill="#fff" stroke="#444" stroke-width="0.5"/>
<circle cx="480.3" cy="14.82" r="1.0" fill="#000"/>
<circle cx="486.5" cy="14.82" r="2.7" fill="#fff" stroke="#444" stroke-width="0.5"/>
<circle cx="486.5" cy="14.82" r="1.0" fill="#000"/>
<circle cx="492.7" cy="14.82" r="2.7" fill="#fff" stroke="#444" stroke-width="0.5"/>
<circle cx="492.7" cy="14.82" r="1.0" fill="#000"/>
<rect x="482.8" y="17.33" width="1.2" height="1.2" fill="#f0f0f0"/>
<rect x="489.0" y="17.33" width="1.2" height="1.2" fill="#f0f0f0"/>
<circle cx="480.3" cy="21.04" r="2.7" fill="#fff" stroke="#444" stroke-width="0.5"/>
<circle cx="480.3" cy="21.04" r="1.0" fill="#000"/>
<circle cx="486.5" cy="21.04" r="2.7" fill="#fff" stroke="#444" stroke-width="0.5"/>
<circle cx="486.5" cy="21.04" r="1.0" fill="#000"/>
<circle cx="492.7" cy="21.04" r="2.7" fill="#fff" stroke="#444" stroke-width="0.5"/>
<circle cx="492.7" cy="21.04" r="1.0" fill="#000"/>
<rect x="482.8" y="23.55" width="1.2" height="1.2" fill="#f0f0f0"/>
<rect x="489.0" y="23.55" width="1.2" height="1.2" fill="#f0f0f0"/>
<circle cx="480.3" cy="27.26" r="2.7" fill="#fff" stroke="#444" stroke-width="0.5"/>
<circle cx="480.3" cy="27.26" r="1.0" fill="#000"/>
<circle cx="486.5" cy="27.26" r="2.7" fill="#fff" stroke="#444" stroke-width="0.5"/>
<circle cx="486.5" cy="27.26" r="1.0" fill="#000"/>
<circle cx="492.7" cy="27.26" r="2.7" fill="#fff" stroke="#444" stroke-width="0.5"/>
<circle cx="492.7" cy="27.26" r="1.0" fill="#000"/>
<rect x="482.8" y="29.77" width="1.2" height="1.2" fill="#f0f0f0"/>
<rect x="489.0" y="29.77" width="1.2" height="1.2" fill="#f0f0f0"/>
<circle cx="480.3" cy="33.48" r="2.7" fill="#fff" stroke="#444" stroke-width="0.5"/>
<circle cx="480.3" cy="33.48" r="1.0" fill="#000"/>
<circle cx="486.5" cy="33.48" r="2.7" fill="#fff" stroke="#444" stroke-width="0.5"/>
<circle cx="486.5" cy="33.48" r="1.0" fill="#000"/>
<circle cx="492.7" cy="33.48" r="2.7" fill="#fff" stroke="#444" stroke-width="0.5"/>
<circle cx="492.7" cy="33.48" r="1.0" fill="#000"/>
<rect x="482.8" y="35.99" width="1.2" height="1.2" fill="#f0f0f0"/>
<rect x="489.0" y="35.99" width="1.2" height="1.2" fill="#f0f0f0"/>
<circle cx="480.3" cy="39.70" r="2.7" fill="#fff" stroke="#444" stroke-width="0.5"/>
<circle cx="480.3" cy="39.70" r="1.0" fill="#000"/>
<circle cx="486.5" cy="39.70" r="2.7" fill="#fff" stroke="#444" stroke-width="0.5"/>
<circle cx="486.5" cy="39.70" r="1.0" fill="#000"/>
<circle cx="492.7" cy="39.70" r="2.7" fill="#fff" stroke="#444" stroke-width="0.5"/>
<circle cx="492.7" cy="39.70" r="1.0" fill="#000"/>
<rect x="482.8" y="42.21" width="1.2" height="1.2" fill="#f0f0f0"/>
<rect x="489.0" y="42.21" width="1.2" height="1.2" fill="#f0f0f0"/>
<circle cx="480.3" cy="45.92" r="2.7" fill="#fff" stroke="#444" stroke-width="0.5"/>
<circle cx="480.3" cy="45.92" r="1.0" fill="#000"/>
<circle cx="486.5" cy="45.92" r="2.7" fill="#fff" stroke="#444" stroke-width="0.5"/>
<circle cx="486.5" cy="45.92" r="1.0" fill="#000"/>
<circle cx="492.7" cy="45.92" r="2.7" fill="#fff" stroke="#444" stroke-width="0.5"/>
<circle cx="492.7" cy="45.92" r="1.0" fill="#000"/>
<rect x="482.8" y="48.43" width="1.2" height="1.2" fill="#f0f0f0"/>
<rect x="489.0" y="48.43" width="1.2" height="1.2" fill="#f0f0f0"/>
<circle cx="480.3" cy="52.14" r="2.7" fill="#fff" stroke="#444" stroke-width="0.5"/>
<circle cx="480.3" cy="52.14" r="1.0" fill="#000"/>
<circle cx="486.5" cy="52.14" r="2.7" fill="#fff" stroke="#444" stroke-width="0.5"/>
<circle cx="486.5" cy="52.14" r="1.0" fill="#000"/>
<circle cx="492.7" cy="52.14" r="2.7" fill="#fff" stroke="#444" stroke-width="0.5"/>
<circle cx="492.7" cy="52.14" r="1.0" fill="#000"/>
<rect x="482.8" y="54.65" width="1.2" height="1.2" fill="#f0f0f0"/>
<rect x="489.0" y="54.65" width="1.2" height="1.2" fill="#f0f0f0"/>
<circle cx="480.3" cy="58.36" r="2.7" fill="#fff" stroke="#444" stroke-width="0.5"/>
<circle cx="480.3" cy="58.36" r="1.0" fill="#000"/>
<circle cx="486.5" cy="58.36" r="2.7" fill="#fff" stroke="#444" stroke-width="0.5"/>
<circle cx="486.5" cy="58.36" r="1.0" fill="#000"/>
<circle cx="492.7" cy="58.36" r="2.7" fill="#fff" stroke="#444" stroke-width="0.5"/>
<circle cx="492.7" cy="58.36" r="1.0" fill="#000"/>
<rect x="482.8" y="60.87" width="1.2" height="1.2" fill="#f0f0f0"/>
<rect x="489.0" y="60.87" width="1.2" height="1.2" fill="#f0f0f0"/>
<circle cx="480.3" cy="64.58" r="2.7" fill="#fff" stroke="#444" stroke-width="0.5"/>
<circle cx="480.3" cy="64.58" r="1.0" fill="#000"/>
<circle cx="486.5" cy="64.58" r="2.7" fill="#fff" stroke="#444" stroke-width="0.5"/>
<circle cx="486.5" cy="64.58" r="1.0" fill="#000"/>
<circle cx="492.7" cy="64.58" r="2.7" fill="#fff" stroke="#444" stroke-width="0.5"/>
<circle cx="492.7" cy="64.58" r="1.0" fill="#000"/>
<rect x="482.8" y="67.09" width="1.2" height="1.2" fill="#f0f0f0"/>
<rect x="489.0" y="67.09" width="1.2" height="1.2" fill="#f0f0f0"/>
<circle cx="480.3" cy="70.80" r="2.7" fill="#fff" stroke="#444" stroke-width="0.5"/>
<circle cx="480.3" cy="70.80" r="1.0" fill="#000"/>
<circle cx="486.5" cy="70.80" r="2.7" fill="#fff" stroke="#444" stroke-width="0.5"/>
<circle cx="486.5" cy="70.80" r="1.0" fill="#000"/>
<circle cx="492.7" cy="70.80" r="2.7" fill="#fff" stroke="#444" stroke-width="0.5"/>
<circle cx="492.7" cy="70.80" r="1.0" fill="#000"/>
<rect x="482.8" y="73.31" width="1.2" height="1.2" fill="#f0f0f0"/>
<rect x="489.0" y="73.31" width="1.2" height="1.2" fill="#f0f0f0"/>
<circle cx="480.3" cy="77.02" r="2.7" fill="#fff" stroke="#444" stroke-width="0.5"/>
<circle cx="480.3" cy="77.02" r="1.0" fill="#000"/>
<circle cx="486.5" cy="77.02" r="2.7" fill="#fff" stroke="#444" stroke-width="0.5"/>
<circle cx="486.5" cy="77.02" r="1.0" fill="#000"/>
<circle cx="492.7" cy="77.02" r="2.7" fill="#fff" stroke="#444" stroke-width="0.5"/>
<circle cx="492.7" cy="77.02" r="1.0" fill="#000"/>
<rect x="482.8" y="79.53" width="1.2" height="1.2" fill="#f0f0f0"/>
<rect x="489.0" y="79.53" width="1.2" height="1.2" fill="#f0f0f0"/>
<circle cx="480.3" cy="83.24" r="2.7" fill="#fff" stroke="#444" stroke-width="0.5"/>
<circle cx="480.3" cy="83.24" r="1.0" fill="#000"/>
<circle cx="486.5" cy="83.24" r="2.7" fill="#fff" stroke="#444" stroke-width="0.5"/>
<circle cx="486.5" cy="83.24" r="1.0" fill="#000"/>
<circle cx="492.7" cy="83.24" r="2.7" fill="#fff" stroke="#444" stroke-width="0.5"/>
<circle cx="492.7" cy="83.24" r="1.0" fill="#000"/>
<rect x="482.8" y="85.75" width="1.2" height="1.2" fill="#f0f0f0"/>
<rect x="489.0" y="85.75" width="1.2" height="1.2" fill="#f0f0f0"/>
<circle cx="480.3" cy="89.46" r="2.7" fill="#fff" stroke="#444" stroke-width="0.5"/>
<circle cx="480.3" cy="89.46" r="1.0" fill="#000"/>
<circle cx="486.5" cy="89.46" r="2.7" fill="#fff" stroke="#444" stroke-width="0.5"/>
<circle cx="486.5" cy="89.46" r="1.0" fill="#000"/>
<circle cx="492.7" cy="89.46" r="2.7" fill="#fff" stroke="#444" stroke-width="0.5"/>
<circle cx="492.7" cy="89.46" r="1.0" fill="#000"/>
<rect x="482.8" y="91.97" width="1.2" height="1.2" fill="#f0f0f0"/>
<rect x="489.0" y="91.97" width="1.2" height="1.2" fill="#f0f0f0"/>
<circle cx="480.3" cy="95.68" r="2.7" fill="#fff" stroke="#444" stroke-width="0.5"/>
<circle cx="480.3" cy="95.68" r="1.0" fill="#000"/>
<circle cx="486.5" cy="95.68" r="2.7" fill="#fff" stroke="#444" stroke-width="0.5"/>
<circle cx="486.5" cy="95.68" r="1.0" fill="#000"/>
<circle cx="492.7" cy="95.68" r="2.7" fill="#fff" stroke="#444" stroke-width="0.5"/>
<circle cx="492.7" cy="95.68" r="1.0" fill="#000"/>
<rect x="482.8" y="98.19" width="1.2" height="1.2" fill="#f0f0f0"/>
<rect x="489.0" y="98.19" width="1.2" height="1.2" fill="#f0f0f0"/>
<circle cx="480.3" cy="101.90" r="2.7" fill="#fff" stroke="#444" stroke-width="0.5"/>
<circle cx="480.3" cy="101.90" r="1.0" fill="#000"/>
<circle cx="486.5" cy="101.90" r="2.7" fill="#fff" stroke="#444" stroke-width="0.5"/>
<circle cx="486.5" cy="101.90" r="1.0" fill="#000"/>
<circle cx="492.7" cy="101.90" r="2.7" fill="#fff" stroke="#444" stroke-width="0.5"/>
<circle cx="492.7" cy="101.90" r="1.0" fill="#000"/>
<rect x="482.8" y="104.41" width="1.2" height="1.2" fill="#f0f0f0"/>
<rect x="489.0" y="104.41" width="1.2" height="1.2" fill="#f0f0f0"/>
<circle cx="480.3" cy="108.12" r="2.7" fill="#fff" stroke="#444" stroke-width="0.5"/>
<circle cx="480.3" cy="108.12" r="1.0" fill="#000"/>
<circle cx="486.5" cy="108.12" r="2.7" fill="#fff" stroke="#444" stroke-width="0.5"/>
<circle cx="486.5" cy="108.12" r="1.0" fill="#000"/>
<circle cx="492.7" cy="108.12" r="2.7" fill="#fff" stroke="#444" stroke-width="0.5"/>
<circle cx="492.7" cy="108.12" r="1.0" fill="#000"/>
<rect x="482.8" y="110.63" width="1.2" height="1.2" fill="#f0f0f0"/>
<rect x="489.0" y="110.63" width="1.2" height="1.2" fill="#f0f0f0"/>
<circle cx="480.3" cy="114.34" r="2.7" fill="#fff" stroke="#444" stroke-width="0.5"/>
<circle cx="480.3" cy="114.34" r="1.0" fill="#000"/>
<circle cx="486.5" cy="114.34" r="2.7" fill="#fff" stroke="#444" stroke-width="0.5"/>
<circle cx="486.5" cy="114.34" r="1.0" fill="#000"/>
<circle cx="492.7" cy="114.34" r="2.7" fill="#fff" stroke="#444" stroke-width="0.5"/>
<circle cx="492.7" cy="114.34" r="1.0" fill="#000"/>
<rect x="482.8" y="116.85" width="1.2" height="1.2" fill="#f0f0f0"/>
<rect x="489.0" y="116.85" width="1.2" height="1.2" fill="#f0f0f0"/>
<circle cx="480.3" cy="120.56" r="2.7" fill="#fff" stroke="#444" stroke-width="0.5"/>
<circle cx="480.3" cy="120.56" r="1.0" fill="#000"/>
<circle cx="486.5" cy="120.56" r="2.7" fill="#fff" stroke="#444" stroke-width="0.5"/>
<circle cx="486.5" cy="120.56" r="1.0" fill="#000"/>
<circle cx="492.7" cy="120.56" r="2.7" fill="#fff" stroke="#444" stroke-width="0.5"/>
<circle cx="492.7" cy="120.56" r="1.0" fill="#000"/>
<rect x="482.8" y="123.07" width="1.2" height="1.2" fill="#f0f0f0"/>
<rect x="489.0" y="123.07" width="1.2" height="1.2" fill="#f0f0f0"/>
<circle cx="480.3" cy="126.78" r="2.7" fill="#fff" stroke="#444" stroke-width="0.5"/>
<circle cx="480.3" cy="126.78" r="1.0" fill="#000"/>
<circle cx="486.5" cy="126.78" r="2.7" fill="#fff" stroke="#444" stroke-width="0.5"/>
<circle cx="486.5" cy="126.78" r="1.0" fill="#000"/>
<circle cx="492.7" cy="126.78" r="2.7" fill="#fff" stroke="#444" stroke-width="0.5"/>
<circle cx="492.7" cy="126.78" r="1.0" fill="#000"/>
<rect x="554.6" y="5.3" width="19.8" height="125.3" fill="#d4d4d4" stroke="#555" stroke-width="0.8"/>
<circle cx="558.0" cy="8.60" r="2.6" fill="#fafafa" stroke="#666" stroke-width="0.6"/>
<circle cx="558.0" cy="8.60" r="0.65" fill="#777"/>
<circle cx="564.4" cy="8.60" r="2.6" fill="#fafafa" stroke="#666" stroke-width="0.6"/>
<circle cx="564.4" cy="8.60" r="0.65" fill="#777"/>
<circle cx="570.8" cy="8.60" r="2.6" fill="#fafafa" stroke="#666" stroke-width="0.6"/>
<circle cx="570.8" cy="8.60" r="0.65" fill="#777"/>
<circle cx="561.2" cy="11.71" r="1.45" fill="#fafafa" stroke="#777" stroke-width="0.5"/>
<circle cx="567.6" cy="11.71" r="1.45" fill="#fafafa" stroke="#777" stroke-width="0.5"/>
<circle cx="558.0" cy="14.82" r="2.6" fill="#fafafa" stroke="#666" stroke-width="0.6"/>
<circle cx="558.0" cy="14.82" r="0.65" fill="#777"/>
<circle cx="564.4" cy="14.82" r="2.6" fill="#fafafa" stroke="#666" stroke-width="0.6"/>
<circle cx="564.4" cy="14.82" r="0.65" fill="#777"/>
<circle cx="570.8" cy="14.82" r="2.6" fill="#fafafa" stroke="#666" stroke-width="0.6"/>
<circle cx="570.8" cy="14.82" r="0.65" fill="#777"/>
<circle cx="561.2" cy="17.93" r="1.45" fill="#fafafa" stroke="#777" stroke-width="0.5"/>
<circle cx="567.6" cy="17.93" r="1.45" fill="#fafafa" stroke="#777" stroke-width="0.5"/>
<circle cx="558.0" cy="21.04" r="2.6" fill="#fafafa" stroke="#666" stroke-width="0.6"/>
<circle cx="558.0" cy="21.04" r="0.65" fill="#777"/>
<circle cx="564.4" cy="21.04" r="2.6" fill="#fafafa" stroke="#666" stroke-width="0.6"/>
<circle cx="564.4" cy="21.04" r="0.65" fill="#777"/>
<circle cx="570.8" cy="21.04" r="2.6" fill="#fafafa" stroke="#666" stroke-width="0.6"/>
<circle cx="570.8" cy="21.04" r="0.65" fill="#777"/>
<circle cx="561.2" cy="24.15" r="1.45" fill="#fafafa" stroke="#777" stroke-width="0.5"/>
<circle cx="567.6" cy="24.15" r="1.45" fill="#fafafa" stroke="#777" stroke-width="0.5"/>
<circle cx="558.0" cy="27.26" r="2.6" fill="#fafafa" stroke="#666" stroke-width="0.6"/>
<circle cx="558.0" cy="27.26" r="0.65" fill="#777"/>
<circle cx="564.4" cy="27.26" r="2.6" fill="#fafafa" stroke="#666" stroke-width="0.6"/>
<circle cx="564.4" cy="27.26" r="0.65" fill="#777"/>
<circle cx="570.8" cy="27.26" r="2.6" fill="#fafafa" stroke="#666" stroke-width="0.6"/>
<circle cx="570.8" cy="27.26" r="0.65" fill="#777"/>
<circle cx="561.2" cy="30.37" r="1.45" fill="#fafafa" stroke="#777" stroke-width="0.5"/>
<circle cx="567.6" cy="30.37" r="1.45" fill="#fafafa" stroke="#777" stroke-width="0.5"/>
<circle cx="558.0" cy="33.48" r="2.6" fill="#fafafa" stroke="#666" stroke-width="0.6"/>
<circle cx="558.0" cy="33.48" r="0.65" fill="#777"/>
<circle cx="564.4" cy="33.48" r="2.6" fill="#fafafa" stroke="#666" stroke-width="0.6"/>
<circle cx="564.4" cy="33.48" r="0.65" fill="#777"/>
<circle cx="570.8" cy="33.48" r="2.6" fill="#fafafa" stroke="#666" stroke-width="0.6"/>
<circle cx="570.8" cy="33.48" r="0.65" fill="#777"/>
<circle cx="561.2" cy="36.59" r="1.45" fill="#fafafa" stroke="#777" stroke-width="0.5"/>
<circle cx="567.6" cy="36.59" r="1.45" fill="#fafafa" stroke="#777" stroke-width="0.5"/>
<circle cx="558.0" cy="39.70" r="2.6" fill="#fafafa" stroke="#666" stroke-width="0.6"/>
<circle cx="558.0" cy="39.70" r="0.65" fill="#777"/>
<circle cx="564.4" cy="39.70" r="2.6" fill="#fafafa" stroke="#666" stroke-width="0.6"/>
<circle cx="564.4" cy="39.70" r="0.65" fill="#777"/>
<circle cx="570.8" cy="39.70" r="2.6" fill="#fafafa" stroke="#666" stroke-width="0.6"/>
<circle cx="570.8" cy="39.70" r="0.65" fill="#777"/>
<circle cx="561.2" cy="42.81" r="1.45" fill="#fafafa" stroke="#777" stroke-width="0.5"/>
<circle cx="567.6" cy="42.81" r="1.45" fill="#fafafa" stroke="#777" stroke-width="0.5"/>
<circle cx="558.0" cy="45.92" r="2.6" fill="#fafafa" stroke="#666" stroke-width="0.6"/>
<circle cx="558.0" cy="45.92" r="0.65" fill="#777"/>
<circle cx="564.4" cy="45.92" r="2.6" fill="#fafafa" stroke="#666" stroke-width="0.6"/>
<circle cx="564.4" cy="45.92" r="0.65" fill="#777"/>
<circle cx="570.8" cy="45.92" r="2.6" fill="#fafafa" stroke="#666" stroke-width="0.6"/>
<circle cx="570.8" cy="45.92" r="0.65" fill="#777"/>
<circle cx="561.2" cy="49.03" r="1.45" fill="#fafafa" stroke="#777" stroke-width="0.5"/>
<circle cx="567.6" cy="49.03" r="1.45" fill="#fafafa" stroke="#777" stroke-width="0.5"/>
<circle cx="558.0" cy="52.14" r="2.6" fill="#fafafa" stroke="#666" stroke-width="0.6"/>
<circle cx="558.0" cy="52.14" r="0.65" fill="#777"/>
<circle cx="564.4" cy="52.14" r="2.6" fill="#fafafa" stroke="#666" stroke-width="0.6"/>
<circle cx="564.4" cy="52.14" r="0.65" fill="#777"/>
<circle cx="570.8" cy="52.14" r="2.6" fill="#fafafa" stroke="#666" stroke-width="0.6"/>
<circle cx="570.8" cy="52.14" r="0.65" fill="#777"/>
<circle cx="561.2" cy="55.25" r="1.45" fill="#fafafa" stroke="#777" stroke-width="0.5"/>
<circle cx="567.6" cy="55.25" r="1.45" fill="#fafafa" stroke="#777" stroke-width="0.5"/>
<circle cx="558.0" cy="58.36" r="2.6" fill="#fafafa" stroke="#666" stroke-width="0.6"/>
<circle cx="558.0" cy="58.36" r="0.65" fill="#777"/>
<circle cx="564.4" cy="58.36" r="2.6" fill="#fafafa" stroke="#666" stroke-width="0.6"/>
<circle cx="564.4" cy="58.36" r="0.65" fill="#777"/>
<circle cx="570.8" cy="58.36" r="2.6" fill="#fafafa" stroke="#666" stroke-width="0.6"/>
<circle cx="570.8" cy="58.36" r="0.65" fill="#777"/>
<circle cx="561.2" cy="61.47" r="1.45" fill="#fafafa" stroke="#777" stroke-width="0.5"/>
<circle cx="567.6" cy="61.47" r="1.45" fill="#fafafa" stroke="#777" stroke-width="0.5"/>
<circle cx="558.0" cy="64.58" r="2.6" fill="#fafafa" stroke="#666" stroke-width="0.6"/>
<circle cx="558.0" cy="64.58" r="0.65" fill="#777"/>
<circle cx="564.4" cy="64.58" r="2.6" fill="#fafafa" stroke="#666" stroke-width="0.6"/>
<circle cx="564.4" cy="64.58" r="0.65" fill="#777"/>
<circle cx="570.8" cy="64.58" r="2.6" fill="#fafafa" stroke="#666" stroke-width="0.6"/>
<circle cx="570.8" cy="64.58" r="0.65" fill="#777"/>
<circle cx="561.2" cy="67.69" r="1.45" fill="#fafafa" stroke="#777" stroke-width="0.5"/>
<circle cx="567.6" cy="67.69" r="1.45" fill="#fafafa" stroke="#777" stroke-width="0.5"/>
<circle cx="558.0" cy="70.80" r="2.6" fill="#fafafa" stroke="#666" stroke-width="0.6"/>
<circle cx="558.0" cy="70.80" r="0.65" fill="#777"/>
<circle cx="564.4" cy="70.80" r="2.6" fill="#fafafa" stroke="#666" stroke-width="0.6"/>
<circle cx="564.4" cy="70.80" r="0.65" fill="#777"/>
<circle cx="570.8" cy="70.80" r="2.6" fill="#fafafa" stroke="#666" stroke-width="0.6"/>
<circle cx="570.8" cy="70.80" r="0.65" fill="#777"/>
<circle cx="561.2" cy="73.91" r="1.45" fill="#fafafa" stroke="#777" stroke-width="0.5"/>
<circle cx="567.6" cy="73.91" r="1.45" fill="#fafafa" stroke="#777" stroke-width="0.5"/>
<circle cx="558.0" cy="77.02" r="2.6" fill="#fafafa" stroke="#666" stroke-width="0.6"/>
<circle cx="558.0" cy="77.02" r="0.65" fill="#777"/>
<circle cx="564.4" cy="77.02" r="2.6" fill="#fafafa" stroke="#666" stroke-width="0.6"/>
<circle cx="564.4" cy="77.02" r="0.65" fill="#777"/>
<circle cx="570.8" cy="77.02" r="2.6" fill="#fafafa" stroke="#666" stroke-width="0.6"/>
<circle cx="570.8" cy="77.02" r="0.65" fill="#777"/>
<circle cx="561.2" cy="80.13" r="1.45" fill="#fafafa" stroke="#777" stroke-width="0.5"/>
<circle cx="567.6" cy="80.13" r="1.45" fill="#fafafa" stroke="#777" stroke-width="0.5"/>
<circle cx="558.0" cy="83.24" r="2.6" fill="#fafafa" stroke="#666" stroke-width="0.6"/>
<circle cx="558.0" cy="83.24" r="0.65" fill="#777"/>
<circle cx="564.4" cy="83.24" r="2.6" fill="#fafafa" stroke="#666" stroke-width="0.6"/>
<circle cx="564.4" cy="83.24" r="0.65" fill="#777"/>
<circle cx="570.8" cy="83.24" r="2.6" fill="#fafafa" stroke="#666" stroke-width="0.6"/>
<circle cx="570.8" cy="83.24" r="0.65" fill="#777"/>
<circle cx="561.2" cy="86.35" r="1.45" fill="#fafafa" stroke="#777" stroke-width="0.5"/>
<circle cx="567.6" cy="86.35" r="1.45" fill="#fafafa" stroke="#777" stroke-width="0.5"/>
<circle cx="558.0" cy="89.46" r="2.6" fill="#fafafa" stroke="#666" stroke-width="0.6"/>
<circle cx="558.0" cy="89.46" r="0.65" fill="#777"/>
<circle cx="564.4" cy="89.46" r="2.6" fill="#fafafa" stroke="#666" stroke-width="0.6"/>
<circle cx="564.4" cy="89.46" r="0.65" fill="#777"/>
<circle cx="570.8" cy="89.46" r="2.6" fill="#fafafa" stroke="#666" stroke-width="0.6"/>
<circle cx="570.8" cy="89.46" r="0.65" fill="#777"/>
<circle cx="561.2" cy="92.57" r="1.45" fill="#fafafa" stroke="#777" stroke-width="0.5"/>
<circle cx="567.6" cy="92.57" r="1.45" fill="#fafafa" stroke="#777" stroke-width="0.5"/>
<circle cx="558.0" cy="95.68" r="2.6" fill="#fafafa" stroke="#666" stroke-width="0.6"/>
<circle cx="558.0" cy="95.68" r="0.65" fill="#777"/>
<circle cx="564.4" cy="95.68" r="2.6" fill="#fafafa" stroke="#666" stroke-width="0.6"/>
<circle cx="564.4" cy="95.68" r="0.65" fill="#777"/>
<circle cx="570.8" cy="95.68" r="2.6" fill="#fafafa" stroke="#666" stroke-width="0.6"/>
<circle cx="570.8" cy="95.68" r="0.65" fill="#777"/>
<circle cx="561.2" cy="98.79" r="1.45" fill="#fafafa" stroke="#777" stroke-width="0.5"/>
<circle cx="567.6" cy="98.79" r="1.45" fill="#fafafa" stroke="#777" stroke-width="0.5"/>
<circle cx="558.0" cy="101.90" r="2.6" fill="#fafafa" stroke="#666" stroke-width="0.6"/>
<circle cx="558.0" cy="101.90" r="0.65" fill="#777"/>
<circle cx="564.4" cy="101.90" r="2.6" fill="#fafafa" stroke="#666" stroke-width="0.6"/>
<circle cx="564.4" cy="101.90" r="0.65" fill="#777"/>
<circle cx="570.8" cy="101.90" r="2.6" fill="#fafafa" stroke="#666" stroke-width="0.6"/>
<circle cx="570.8" cy="101.90" r="0.65" fill="#777"/>
<circle cx="561.2" cy="105.01" r="1.45" fill="#fafafa" stroke="#777" stroke-width="0.5"/>
<circle cx="567.6" cy="105.01" r="1.45" fill="#fafafa" stroke="#777" stroke-width="0.5"/>
<circle cx="558.0" cy="108.12" r="2.6" fill="#fafafa" stroke="#666" stroke-width="0.6"/>
<circle cx="558.0" cy="108.12" r="0.65" fill="#777"/>
<circle cx="564.4" cy="108.12" r="2.6" fill="#fafafa" stroke="#666" stroke-width="0.6"/>
<circle cx="564.4" cy="108.12" r="0.65" fill="#777"/>
<circle cx="570.8" cy="108.12" r="2.6" fill="#fafafa" stroke="#666" stroke-width="0.6"/>
<circle cx="570.8" cy="108.12" r="0.65" fill="#777"/>
<circle cx="561.2" cy="111.23" r="1.45" fill="#fafafa" stroke="#777" stroke-width="0.5"/>
<circle cx="567.6" cy="111.23" r="1.45" fill="#fafafa" stroke="#777" stroke-width="0.5"/>
<circle cx="558.0" cy="114.34" r="2.6" fill="#fafafa" stroke="#666" stroke-width="0.6"/>
<circle cx="558.0" cy="114.34" r="0.65" fill="#777"/>
<circle cx="564.4" cy="114.34" r="2.6" fill="#fafafa" stroke="#666" stroke-width="0.6"/>
<circle cx="564.4" cy="114.34" r="0.65" fill="#777"/>
<circle cx="570.8" cy="114.34" r="2.6" fill="#fafafa" stroke="#666" stroke-width="0.6"/>
<circle cx="570.8" cy="114.34" r="0.65" fill="#777"/>
<circle cx="561.2" cy="117.45" r="1.45" fill="#fafafa" stroke="#777" stroke-width="0.5"/>
<circle cx="567.6" cy="117.45" r="1.45" fill="#fafafa" stroke="#777" stroke-width="0.5"/>
<circle cx="558.0" cy="120.56" r="2.6" fill="#fafafa" stroke="#666" stroke-width="0.6"/>
<circle cx="558.0" cy="120.56" r="0.65" fill="#777"/>
<circle cx="564.4" cy="120.56" r="2.6" fill="#fafafa" stroke="#666" stroke-width="0.6"/>
<circle cx="564.4" cy="120.56" r="0.65" fill="#777"/>
<circle cx="570.8" cy="120.56" r="2.6" fill="#fafafa" stroke="#666" stroke-width="0.6"/>
<circle cx="570.8" cy="120.56" r="0.65" fill="#777"/>
<circle cx="561.2" cy="123.67" r="1.45" fill="#fafafa" stroke="#777" stroke-width="0.5"/>
<circle cx="567.6" cy="123.67" r="1.45" fill="#fafafa" stroke="#777" stroke-width="0.5"/>
<circle cx="558.0" cy="126.78" r="2.6" fill="#fafafa" stroke="#666" stroke-width="0.6"/>
<circle cx="558.0" cy="126.78" r="0.65" fill="#777"/>
<circle cx="564.4" cy="126.78" r="2.6" fill="#fafafa" stroke="#666" stroke-width="0.6"/>
<circle cx="564.4" cy="126.78" r="0.65" fill="#777"/>
<circle cx="570.8" cy="126.78" r="2.6" fill="#fafafa" stroke="#666" stroke-width="0.6"/>
<circle cx="570.8" cy="126.78" r="0.65" fill="#777"/>
<path d="M499,22.5 L499,103 Q499,104.4 500.5,104.4 L549.5,104.4 Q551,104.4 551,103 L551,22.5" fill="none" stroke="#7a7a7a" stroke-width="1.1"/>
<path d="M499,35.8 q3,-1 6,0 t6,0 t6,0 t6,0 t6,0 t6,0 t6,0 t6,0 t3,0" fill="none" stroke="#999" stroke-width="0.6"/>
<line x1="525.6" y1="4" x2="525.6" y2="69" stroke="#666" stroke-width="0.7" />
<line x1="525.6" y1="69" x2="525.6" y2="82" stroke="#888" stroke-width="0.6" stroke-dasharray="1.2,1"/>
<polygon points="525.60,3.00 526.60,5.40 524.60,5.40" fill="#333"/>
<text x="516.8" y="10" font-family="'Liberation Sans', sans-serif" font-size="6.2" font-weight="bold" fill="#111">z</text>
<path d="M529.5,12 L522.5,12.5 C519.5,14 519.5,18.5 523,20.5 L527.5,21.2" fill="none" stroke="#555" stroke-width="2.8"/>
<path d="M529.5,12 L522.5,12.5 C519.5,14 519.5,18.5 523,20.5 L527.5,21.2" fill="none" stroke="#e2e2e2" stroke-width="1.6"/>
<polygon points="530.8,21.5 526.8,18.6 526.6,24" fill="#e2e2e2" stroke="#555" stroke-width="0.6"/>
<path d="M529.5,12 L529.6,13.3" stroke="#555" stroke-width="0.6"/>
<path d="M536.3,6 L538.4,10 L537.5,10 L537.5,27.5 L535.1,27.5 L535.1,10 L534.2,10 Z" fill="#e8e8e8" stroke="#a0a0a0" stroke-width="0.6"/>
<text x="539.8" y="12" font-family="'Liberation Sans', sans-serif" font-size="5.6" font-weight="bold" fill="#111">B<tspan font-size="4.2" dy="1.4" font-weight="normal">a</tspan></text>
<text x="506" y="26.3" font-family="'Liberation Sans', sans-serif" font-size="7" fill="#111" font-weight="bold" font-style="italic" text-anchor="start" textLength="11.3" lengthAdjust="spacingAndGlyphs" >HTS</text>
<text x="506.3" y="32.6" font-family="'Liberation Sans', sans-serif" font-size="7" fill="#111" font-weight="bold" font-style="italic" text-anchor="start" textLength="11" lengthAdjust="spacingAndGlyphs" >tube</text>
<line x1="511" y1="36.5" x2="511" y2="46" stroke="#444" stroke-width="0.6" stroke-dasharray="1,1"/>
<polygon points="511.00,48.00 510.10,46.00 511.90,46.00" fill="#444"/>
<rect x="510.5" y="48" width="5.7" height="44" fill="#000"/>
<rect x="536" y="48" width="5.3" height="43" fill="#000"/>
<text x="527" y="43.3" font-family="'Liberation Sans', sans-serif" font-size="5.5" font-style="italic" fill="#222">a<tspan font-size="3.8" dy="1.3">2</tspan></text>
<line x1="525.6" y1="45.8" x2="539.5" y2="45.8" stroke="#333" stroke-width="0.6" />
<polygon points="541.20,45.80 539.20,46.70 539.20,44.90" fill="#333"/>
<text x="527" y="54.3" font-family="'Liberation Sans', sans-serif" font-size="5.5" font-style="italic" fill="#222">a<tspan font-size="3.8" dy="1.3">1</tspan></text>
<line x1="525.6" y1="57.6" x2="534.5" y2="57.6" stroke="#333" stroke-width="0.6" />
<polygon points="536.00,57.60 534.00,58.50 534.00,56.70" fill="#333"/>
<line x1="508.4" y1="48.5" x2="508.4" y2="91.5" stroke="#555" stroke-width="0.6" />
<text x="504" y="71.5" font-family="'Liberation Serif', serif" font-size="6" font-style="italic" fill="#222">l</text>
<line x1="525.6" y1="69.6" x2="551" y2="69.6" stroke="#999" stroke-width="0.6" stroke-dasharray="2,1.2"/>
<line x1="575.5" y1="70" x2="584" y2="70" stroke="#aaa" stroke-width="1.0" />
<polygon points="586.00,70.00 583.80,71.10 583.80,68.90" fill="#222"/>
<text x="579.3" y="66.6" font-family="'Liberation Sans', sans-serif" font-size="6.5" fill="#111" font-weight="bold" font-style="italic" text-anchor="start" >y</text>
<ellipse cx="525.6" cy="69.1" rx="1.5" ry="2" fill="#fff" stroke="#666" stroke-width="0.6"/>
<line x1="525" y1="70.5" x2="500.5" y2="109" stroke="#333" stroke-width="0.7" />
<polygon points="498.80,111.60 499.19,109.12 500.88,110.19" fill="#333"/>
<text x="503.3" y="117.3" font-family="'Liberation Sans', sans-serif" font-size="7" fill="#111" font-weight="normal" font-style="italic" text-anchor="start" >x</text>
<text x="517.3" y="97.3" font-family="'Liberation Sans', sans-serif" font-size="6.6" fill="#111" font-weight="bold" font-style="italic" text-anchor="start" textLength="18.5" lengthAdjust="spacingAndGlyphs" >magnetic</text>
<text x="519.3" y="103" font-family="'Liberation Sans', sans-serif" font-size="6.6" fill="#111" font-weight="bold" font-style="italic" text-anchor="start" textLength="14.5" lengthAdjust="spacingAndGlyphs" >sensor</text>
<text x="526.3" y="113.3" font-family="'Liberation Sans', sans-serif" font-size="6.6" fill="#111" font-weight="bold" font-style="italic" text-anchor="start" textLength="16.5" lengthAdjust="spacingAndGlyphs" >source</text>
<text x="530.3" y="119.5" font-family="'Liberation Sans', sans-serif" font-size="6.6" fill="#111" font-weight="bold" font-style="italic" text-anchor="start" textLength="9.5" lengthAdjust="spacingAndGlyphs" >coil</text>
<line x1="543.5" y1="112.8" x2="551.5" y2="112.8" stroke="#333" stroke-width="0.6" stroke-dasharray="1,0.8"/>
<polygon points="554.00,112.80 551.80,113.80 551.80,111.80" fill="#333"/>
<text x="585.3" y="27.4" font-family="'Liberation Sans', sans-serif" font-size="19.6" fill="#ff0000" font-weight="normal" font-style="normal" text-anchor="start" textLength="23.2" lengthAdjust="spacingAndGlyphs" >(b)</text>
<defs><linearGradient id="gCylA" x1="0" y1="0" x2="1" y2="0"><stop offset="0" stop-color="#222"/><stop offset="0.3" stop-color="#3c3c3c"/><stop offset="0.55" stop-color="#2a2a2a"/><stop offset="1" stop-color="#141414"/></linearGradient><linearGradient id="gTube" x1="0" y1="1" x2="1" y2="0"><stop offset="0" stop-color="#181818"/><stop offset="0.5" stop-color="#3a3a3a"/><stop offset="1" stop-color="#151515"/></linearGradient><linearGradient id="gBig" x1="0" y1="0" x2="1" y2="0"><stop offset="0" stop-color="#2a2c2a"/><stop offset="0.25" stop-color="#3c3e3b"/><stop offset="0.5" stop-color="#252725"/><stop offset="0.8" stop-color="#1a1b1a"/><stop offset="1" stop-color="#2c2d2c"/></linearGradient><filter id="blB"><feGaussianBlur stdDeviation="0.45"/></filter></defs>
<rect x="278" y="166" width="71" height="104" fill="#fcfaf7"/>
<g filter="url(#blB)">
<path d="M294.3,244.5 L294.3,181 C294.3,174.5 299.5,170.2 306,170.2 C312.5,170.2 317.8,174.5 317.8,181 L317.8,244.5 Z" fill="url(#gCylA)"/>
<path d="M298,181 C298.5,176 301.5,173.5 305,173" fill="none" stroke="#5e5e5e" stroke-width="1.2"/>
<path d="M307.5,249.5 L334.5,228.3 L343.5,238.5 L315,259 Z" fill="url(#gTube)"/>
<ellipse cx="339" cy="233.4" rx="3.6" ry="6.8" transform="rotate(-40 339 233.4)" fill="#2c2c2c"/>
<ellipse cx="311.3" cy="254.2" rx="3.8" ry="6.6" transform="rotate(-40 311.3 254.2)" fill="#101010" stroke="#3a3a3a" stroke-width="1"/>
<path d="M329,261.5 L337,244 L346.5,247.5 L338.5,265.5 Z" fill="url(#gTube)"/>
<ellipse cx="341.7" cy="245.8" rx="3.2" ry="5.2" transform="rotate(-68 341.7 245.8)" fill="#2c2c2c"/>
<ellipse cx="333.8" cy="263.5" rx="3.4" ry="5.4" transform="rotate(-68 333.8 263.5)" fill="#101010" stroke="#3a3a3a" stroke-width="1"/>
</g>
<line x1="357.4" y1="180" x2="357.4" y2="258" stroke="#000" stroke-width="1.4" />
<polygon points="357.40,175.50 360.20,181.50 354.60,181.50" fill="#000"/>
<line x1="353.5" y1="258" x2="362.5" y2="258" stroke="#111" stroke-width="1.1" />
<text x="362.2" y="179.8" font-family="'Liberation Sans', sans-serif" font-size="10.5" fill="#000" font-weight="normal" font-style="italic" text-anchor="start" >Z</text>
<line x1="366.5" y1="277" x2="389" y2="277" stroke="#000" stroke-width="1.5" />
<line x1="366.5" y1="274" x2="366.5" y2="280" stroke="#000" stroke-width="1.3" />
<line x1="389" y1="274" x2="389" y2="280" stroke="#000" stroke-width="1.3" />
<line x1="377.8" y1="275.5" x2="377.8" y2="277.5" stroke="#000" stroke-width="1" />
<text x="394.5" y="280.6" font-family="'Liberation Sans', sans-serif" font-size="9.2" fill="#000" font-weight="normal" font-style="normal" text-anchor="start" textLength="39.5" lengthAdjust="spacingAndGlyphs" >10 (mm)</text>
<defs><linearGradient id="gBig2" x1="0" y1="0" x2="1" y2="0"><stop offset="0" stop-color="#20211e"/><stop offset="0.15" stop-color="#2c2d29"/><stop offset="0.38" stop-color="#3a3b36"/><stop offset="0.5" stop-color="#44453f"/><stop offset="0.62" stop-color="#2a2b27"/><stop offset="0.85" stop-color="#191a18"/><stop offset="1" stop-color="#222320"/></linearGradient></defs>
<g filter="url(#blB)">
<path d="M366.7,188 C375,185.5 395,184 410,184.5 C416,184.8 420,185.5 421.5,186.5 L421.5,255.3 L417,255.3 L417,264.3 L370,264.3 L370,255.3 L366.7,255.3 Z" fill="url(#gBig2)"/>
<path d="M366.7,188 C375,185.5 395,184 410,184.5 C416,184.8 420,185.5 421.5,186.5 L421.5,189.5 C410,188 380,188.5 366.7,190.5 Z" fill="#141512"/>
<path d="M388,212 C390,225 392,240 391,252" stroke="#5a5b55" stroke-width="1.6" fill="none"/>
<path d="M383,230 C385,240 386,248 387,252" stroke="#4c4d47" stroke-width="1" fill="none"/>
<rect x="366.7" y="253.5" width="54.8" height="2" fill="#121311"/>
<rect x="371" y="251.5" width="13" height="2.5" fill="#3d6a52"/>
<rect x="401" y="256" width="14" height="3" fill="#2e4a3a"/><rect x="372" y="257" width="10" height="3" fill="#2f4f40"/><rect x="388" y="258" width="5" height="4" fill="#6a6a62"/>
<rect x="370" y="262" width="47" height="2.3" fill="#2a2b28"/>
</g>
<g filter="url(#blB)">
<ellipse cx="392.6" cy="196.3" rx="4.5" ry="5.8" fill="none" stroke="#eef0f2" stroke-width="4.6" transform="rotate(-25 392.6 196.3)"/>
<path d="M406.2,187 C404.8,193 404.6,199 405.6,205" fill="none" stroke="#e4e8ea" stroke-width="3.4"/>
<circle cx="410.2" cy="202.3" r="3.9" fill="none" stroke="#e4e8ea" stroke-width="3.2"/>
<path d="M418.8,190.5 L419.2,204" stroke="#c8ccce" stroke-width="2.4"/>
</g>
<line x1="462.8" y1="227.89999999999998" x2="602.1" y2="227.89999999999998" stroke="#d8d8d8" stroke-width="0.6" />
<line x1="462.8" y1="197.6" x2="602.1" y2="197.6" stroke="#d8d8d8" stroke-width="0.6" />
<line x1="462.8" y1="167.29999999999998" x2="602.1" y2="167.29999999999998" stroke="#d8d8d8" stroke-width="0.6" />
<rect x="462.8" y="137.0" width="139.3" height="121.2" fill="none" stroke="#444" stroke-width="0.8"/>
<line x1="482.7" y1="258.2" x2="482.7" y2="256.59999999999997" stroke="#444" stroke-width="0.6" />
<line x1="482.7" y1="137.0" x2="482.7" y2="138.6" stroke="#444" stroke-width="0.6" />
<line x1="502.6" y1="258.2" x2="502.6" y2="256.59999999999997" stroke="#444" stroke-width="0.6" />
<line x1="502.6" y1="137.0" x2="502.6" y2="138.6" stroke="#444" stroke-width="0.6" />
<line x1="522.5" y1="258.2" x2="522.5" y2="256.59999999999997" stroke="#444" stroke-width="0.6" />
<line x1="522.5" y1="137.0" x2="522.5" y2="138.6" stroke="#444" stroke-width="0.6" />
<line x1="542.4" y1="258.2" x2="542.4" y2="256.59999999999997" stroke="#444" stroke-width="0.6" />
<line x1="542.4" y1="137.0" x2="542.4" y2="138.6" stroke="#444" stroke-width="0.6" />
<line x1="562.3" y1="258.2" x2="562.3" y2="256.59999999999997" stroke="#444" stroke-width="0.6" />
<line x1="562.3" y1="137.0" x2="562.3" y2="138.6" stroke="#444" stroke-width="0.6" />
<line x1="582.2" y1="258.2" x2="582.2" y2="256.59999999999997" stroke="#444" stroke-width="0.6" />
<line x1="582.2" y1="137.0" x2="582.2" y2="138.6" stroke="#444" stroke-width="0.6" />
<line x1="462.8" y1="249.07879113138137" x2="463.7" y2="249.07879113138137" stroke="#666" stroke-width="0.5" />
<line x1="462.8" y1="243.74322598199421" x2="463.7" y2="243.74322598199421" stroke="#666" stroke-width="0.5" />
<line x1="462.8" y1="239.95758226276274" x2="463.7" y2="239.95758226276274" stroke="#666" stroke-width="0.5" />
<line x1="462.8" y1="237.02120886861863" x2="463.7" y2="237.02120886861863" stroke="#666" stroke-width="0.5" />
<line x1="462.8" y1="234.6220171133756" x2="463.7" y2="234.6220171133756" stroke="#666" stroke-width="0.5" />
<line x1="462.8" y1="232.593529387568" x2="463.7" y2="232.593529387568" stroke="#666" stroke-width="0.5" />
<line x1="462.8" y1="230.8363733941441" x2="463.7" y2="230.8363733941441" stroke="#666" stroke-width="0.5" />
<line x1="462.8" y1="229.28645196398844" x2="463.7" y2="229.28645196398844" stroke="#666" stroke-width="0.5" />
<line x1="462.8" y1="218.77879113138135" x2="463.7" y2="218.77879113138135" stroke="#666" stroke-width="0.5" />
<line x1="462.8" y1="213.4432259819942" x2="463.7" y2="213.4432259819942" stroke="#666" stroke-width="0.5" />
<line x1="462.8" y1="209.65758226276273" x2="463.7" y2="209.65758226276273" stroke="#666" stroke-width="0.5" />
<line x1="462.8" y1="206.72120886861862" x2="463.7" y2="206.72120886861862" stroke="#666" stroke-width="0.5" />
<line x1="462.8" y1="204.32201711337558" x2="463.7" y2="204.32201711337558" stroke="#666" stroke-width="0.5" />
<line x1="462.8" y1="202.29352938756801" x2="463.7" y2="202.29352938756801" stroke="#666" stroke-width="0.5" />
<line x1="462.8" y1="200.5363733941441" x2="463.7" y2="200.5363733941441" stroke="#666" stroke-width="0.5" />
<line x1="462.8" y1="198.98645196398843" x2="463.7" y2="198.98645196398843" stroke="#666" stroke-width="0.5" />
<line x1="462.8" y1="188.47879113138134" x2="463.7" y2="188.47879113138134" stroke="#666" stroke-width="0.5" />
<line x1="462.8" y1="183.1432259819942" x2="463.7" y2="183.1432259819942" stroke="#666" stroke-width="0.5" />
<line x1="462.8" y1="179.35758226276272" x2="463.7" y2="179.35758226276272" stroke="#666" stroke-width="0.5" />
<line x1="462.8" y1="176.42120886861863" x2="463.7" y2="176.42120886861863" stroke="#666" stroke-width="0.5" />
<line x1="462.8" y1="174.02201711337557" x2="463.7" y2="174.02201711337557" stroke="#666" stroke-width="0.5" />
<line x1="462.8" y1="171.993529387568" x2="463.7" y2="171.993529387568" stroke="#666" stroke-width="0.5" />
<line x1="462.8" y1="170.2363733941441" x2="463.7" y2="170.2363733941441" stroke="#666" stroke-width="0.5" />
<line x1="462.8" y1="168.68645196398845" x2="463.7" y2="168.68645196398845" stroke="#666" stroke-width="0.5" />
<line x1="462.8" y1="158.17879113138136" x2="463.7" y2="158.17879113138136" stroke="#666" stroke-width="0.5" />
<line x1="462.8" y1="152.8432259819942" x2="463.7" y2="152.8432259819942" stroke="#666" stroke-width="0.5" />
<line x1="462.8" y1="149.0575822627627" x2="463.7" y2="149.0575822627627" stroke="#666" stroke-width="0.5" />
<line x1="462.8" y1="146.12120886861862" x2="463.7" y2="146.12120886861862" stroke="#666" stroke-width="0.5" />
<line x1="462.8" y1="143.72201711337556" x2="463.7" y2="143.72201711337556" stroke="#666" stroke-width="0.5" />
<line x1="462.8" y1="141.693529387568" x2="463.7" y2="141.693529387568" stroke="#666" stroke-width="0.5" />
<line x1="462.8" y1="139.93637339414408" x2="463.7" y2="139.93637339414408" stroke="#666" stroke-width="0.5" />
<line x1="462.8" y1="138.38645196398846" x2="463.7" y2="138.38645196398846" stroke="#666" stroke-width="0.5" />
<text x="462.8" y="269.3" font-family="'Liberation Sans', sans-serif" font-size="7.2" fill="#222" font-weight="normal" font-style="normal" text-anchor="middle" >0</text>
<text x="482.7" y="269.3" font-family="'Liberation Sans', sans-serif" font-size="7.2" fill="#222" font-weight="normal" font-style="normal" text-anchor="middle" >0.5</text>
<text x="502.6" y="269.3" font-family="'Liberation Sans', sans-serif" font-size="7.2" fill="#222" font-weight="normal" font-style="normal" text-anchor="middle" >1</text>
<text x="522.5" y="269.3" font-family="'Liberation Sans', sans-serif" font-size="7.2" fill="#222" font-weight="normal" font-style="normal" text-anchor="middle" >1.5</text>
<text x="542.4" y="269.3" font-family="'Liberation Sans', sans-serif" font-size="7.2" fill="#222" font-weight="normal" font-style="normal" text-anchor="middle" >2</text>
<text x="562.3" y="269.3" font-family="'Liberation Sans', sans-serif" font-size="7.2" fill="#222" font-weight="normal" font-style="normal" text-anchor="middle" >2.5</text>
<text x="582.2" y="269.3" font-family="'Liberation Sans', sans-serif" font-size="7.2" fill="#222" font-weight="normal" font-style="normal" text-anchor="middle" >3</text>
<text x="602.1" y="269.3" font-family="'Liberation Sans', sans-serif" font-size="7.2" fill="#222" font-weight="normal" font-style="normal" text-anchor="middle" >3.5</text>
<text x="459.3" y="261.5" font-family="'Liberation Sans', sans-serif" font-size="7.2" fill="#222" text-anchor="end">10<tspan font-size="4.8" dy="-3.2">0</tspan></text>
<text x="459.3" y="231.2" font-family="'Liberation Sans', sans-serif" font-size="7.2" fill="#222" text-anchor="end">10<tspan font-size="4.8" dy="-3.2">1</tspan></text>
<text x="459.3" y="200.9" font-family="'Liberation Sans', sans-serif" font-size="7.2" fill="#222" text-anchor="end">10<tspan font-size="4.8" dy="-3.2">2</tspan></text>
<text x="459.3" y="170.6" font-family="'Liberation Sans', sans-serif" font-size="7.2" fill="#222" text-anchor="end">10<tspan font-size="4.8" dy="-3.2">3</tspan></text>
<text x="459.3" y="140.3" font-family="'Liberation Sans', sans-serif" font-size="7.2" fill="#222" text-anchor="end">10<tspan font-size="4.8" dy="-3.2">4</tspan></text>
<text x="457" y="280.2" font-family="'Liberation Sans', sans-serif" font-size="7.6" fill="#222" textLength="151" lengthAdjust="spacingAndGlyphs">Applied magnetic induction <tspan font-style="italic">B</tspan><tspan font-size="5.2" dy="1.8">app</tspan><tspan dy="-1.8">=</tspan><tspan font-style="italic">μ</tspan><tspan font-size="5.2" dy="1.8">0</tspan><tspan dy="-1.8" font-style="italic">H</tspan><tspan font-size="5.2" dy="1.8">app</tspan><tspan dy="-1.8"> (T)</tspan></text>
<text transform="translate(441.6,247.4) rotate(-90)" font-family="'Liberation Sans', sans-serif" font-size="8.4" fill="#222" textLength="99" lengthAdjust="spacingAndGlyphs">Shielding factor <tspan font-style="italic">SF</tspan> = <tspan font-style="italic">B</tspan><tspan font-size="5.6" dy="1.9">app</tspan><tspan dy="-1.9">/</tspan><tspan font-style="italic">B</tspan><tspan font-size="5.6" dy="1.9">z</tspan></text>
<polygon points="465.5,139.6 469.3,139.6 467.4,142.9" fill="#fff" stroke="#3ab4e8" stroke-width="0.65"/>
<polygon points="466.9,142.9 470.7,142.9 468.8,146.3" fill="#fff" stroke="#3ab4e8" stroke-width="0.65"/>
<polygon points="468.3,146.1 472.2,146.1 470.2,149.4" fill="#fff" stroke="#3ab4e8" stroke-width="0.65"/>
<polygon points="471.2,145.0 475.0,145.0 473.1,148.3" fill="#fff" stroke="#3ab4e8" stroke-width="0.65"/>
<polygon points="473.9,143.4 477.7,143.4 475.8,146.7" fill="#fff" stroke="#3ab4e8" stroke-width="0.65"/>
<polygon points="476.5,141.5 480.3,141.5 478.4,144.8" fill="#fff" stroke="#3ab4e8" stroke-width="0.65"/>
<polygon points="478.9,142.1 482.8,142.1 480.8,145.5" fill="#fff" stroke="#3ab4e8" stroke-width="0.65"/>
<polygon points="480.5,145.3 484.3,145.3 482.4,148.7" fill="#fff" stroke="#3ab4e8" stroke-width="0.65"/>
<polygon points="481.9,148.7 485.7,148.7 483.8,152.0" fill="#fff" stroke="#3ab4e8" stroke-width="0.65"/>
<polygon points="483.3,152.0 487.1,152.0 485.2,155.3" fill="#fff" stroke="#3ab4e8" stroke-width="0.65"/>
<polygon points="485.6,154.3 489.5,154.3 487.5,157.6" fill="#fff" stroke="#3ab4e8" stroke-width="0.65"/>
<polygon points="488.0,156.6 491.8,156.6 489.9,159.9" fill="#fff" stroke="#3ab4e8" stroke-width="0.65"/>
<polygon points="490.2,159.1 494.1,159.1 492.1,162.4" fill="#fff" stroke="#3ab4e8" stroke-width="0.65"/>
<polygon points="492.4,161.7 496.3,161.7 494.3,165.0" fill="#fff" stroke="#3ab4e8" stroke-width="0.65"/>
<polygon points="494.6,164.2 498.5,164.2 496.5,167.5" fill="#fff" stroke="#3ab4e8" stroke-width="0.65"/>
<polygon points="496.8,166.8 500.6,166.8 498.7,170.1" fill="#fff" stroke="#3ab4e8" stroke-width="0.65"/>
<polygon points="498.9,169.4 502.8,169.4 500.8,172.8" fill="#fff" stroke="#3ab4e8" stroke-width="0.65"/>
<polygon points="501.0,172.1 504.8,172.1 502.9,175.5" fill="#fff" stroke="#3ab4e8" stroke-width="0.65"/>
<polygon points="503.1,174.8 506.9,174.8 505.0,178.1" fill="#fff" stroke="#3ab4e8" stroke-width="0.65"/>
<polygon points="505.2,177.5 509.0,177.5 507.1,180.8" fill="#fff" stroke="#3ab4e8" stroke-width="0.65"/>
<polygon points="507.2,180.2 511.1,180.2 509.2,183.6" fill="#fff" stroke="#3ab4e8" stroke-width="0.65"/>
<polygon points="509.1,183.1 513.0,183.1 511.1,186.5" fill="#fff" stroke="#3ab4e8" stroke-width="0.65"/>
<polygon points="511.1,186.0 514.9,186.0 513.0,189.3" fill="#fff" stroke="#3ab4e8" stroke-width="0.65"/>
<polygon points="513.0,188.8 516.9,188.8 515.0,192.1" fill="#fff" stroke="#3ab4e8" stroke-width="0.65"/>
<polygon points="515.1,191.6 518.9,191.6 517.0,194.9" fill="#fff" stroke="#3ab4e8" stroke-width="0.65"/>
<polygon points="517.3,194.0 521.2,194.0 519.3,197.3" fill="#fff" stroke="#3ab4e8" stroke-width="0.65"/>
<polygon points="519.9,195.9 523.8,195.9 521.8,199.2" fill="#fff" stroke="#3ab4e8" stroke-width="0.65"/>
<polygon points="522.5,197.8 526.3,197.8 524.4,201.1" fill="#fff" stroke="#3ab4e8" stroke-width="0.65"/>
<polygon points="525.1,199.7 528.9,199.7 527.0,203.1" fill="#fff" stroke="#3ab4e8" stroke-width="0.65"/>
<polygon points="527.5,201.9 531.4,201.9 529.4,205.2" fill="#fff" stroke="#3ab4e8" stroke-width="0.65"/>
<polygon points="529.9,204.2 533.7,204.2 531.8,207.5" fill="#fff" stroke="#3ab4e8" stroke-width="0.65"/>
<polygon points="532.3,206.4 536.1,206.4 534.2,209.8" fill="#fff" stroke="#3ab4e8" stroke-width="0.65"/>
<polygon points="534.8,208.5 538.7,208.5 536.7,211.8" fill="#fff" stroke="#3ab4e8" stroke-width="0.65"/>
<polygon points="537.3,210.5 541.2,210.5 539.3,213.8" fill="#fff" stroke="#3ab4e8" stroke-width="0.65"/>
<polygon points="539.9,212.5 543.7,212.5 541.8,215.8" fill="#fff" stroke="#3ab4e8" stroke-width="0.65"/>
<polygon points="542.4,214.5 546.3,214.5 544.3,217.8" fill="#fff" stroke="#3ab4e8" stroke-width="0.65"/>
<polygon points="545.0,216.5 548.8,216.5 546.9,219.8" fill="#fff" stroke="#3ab4e8" stroke-width="0.65"/>
<polygon points="547.5,218.5 551.3,218.5 549.4,221.8" fill="#fff" stroke="#3ab4e8" stroke-width="0.65"/>
<polygon points="550.0,220.5 553.9,220.5 552.0,223.8" fill="#fff" stroke="#3ab4e8" stroke-width="0.65"/>
<polygon points="552.6,222.5 556.4,222.5 554.5,225.8" fill="#fff" stroke="#3ab4e8" stroke-width="0.65"/>
<polygon points="555.3,224.0 559.1,224.0 557.2,227.3" fill="#fff" stroke="#3ab4e8" stroke-width="0.65"/>
<polygon points="558.1,225.4 561.9,225.4 560.0,228.7" fill="#fff" stroke="#3ab4e8" stroke-width="0.65"/>
<polygon points="560.9,226.8 564.7,226.8 562.8,230.1" fill="#fff" stroke="#3ab4e8" stroke-width="0.65"/>
<polygon points="563.6,228.2 567.5,228.2 565.6,231.5" fill="#fff" stroke="#3ab4e8" stroke-width="0.65"/>
<polygon points="566.4,229.6 570.3,229.6 568.4,233.0" fill="#fff" stroke="#3ab4e8" stroke-width="0.65"/>
<polygon points="569.3,230.7 573.1,230.7 571.2,234.1" fill="#fff" stroke="#3ab4e8" stroke-width="0.65"/>
<polygon points="572.2,231.8 576.0,231.8 574.1,235.1" fill="#fff" stroke="#3ab4e8" stroke-width="0.65"/>
<polygon points="575.0,232.9 578.9,232.9 577.0,236.2" fill="#fff" stroke="#3ab4e8" stroke-width="0.65"/>
<polygon points="577.9,234.0 581.8,234.0 579.8,237.3" fill="#fff" stroke="#3ab4e8" stroke-width="0.65"/>
<polygon points="580.8,235.0 584.6,235.0 582.7,238.3" fill="#fff" stroke="#3ab4e8" stroke-width="0.65"/>
<polygon points="583.7,236.0 587.5,236.0 585.6,239.4" fill="#fff" stroke="#3ab4e8" stroke-width="0.65"/>
<polygon points="586.6,237.1 590.4,237.1 588.5,240.4" fill="#fff" stroke="#3ab4e8" stroke-width="0.65"/>
<polygon points="464.0,145.0 468.0,145.0 466.0,148.5" fill="#5a9a1a"/>
<polygon points="465.0,149.7 469.0,149.7 467.0,153.2" fill="#5a9a1a"/>
<polygon points="465.9,154.3 470.0,154.3 468.0,157.8" fill="#5a9a1a"/>
<polygon points="466.9,159.0 471.0,159.0 469.0,162.5" fill="#5a9a1a"/>
<polygon points="467.9,163.6 472.0,163.6 470.0,167.1" fill="#5a9a1a"/>
<polygon points="470.3,166.9 474.4,166.9 472.4,170.4" fill="#5a9a1a"/>
<polygon points="472.9,170.1 477.0,170.1 475.0,173.6" fill="#5a9a1a"/>
<polygon points="475.6,173.1 479.6,173.1 477.6,176.6" fill="#5a9a1a"/>
<polygon points="478.3,175.9 482.4,175.9 480.4,179.4" fill="#5a9a1a"/>
<polygon points="481.0,178.8 485.1,178.8 483.1,182.3" fill="#5a9a1a"/>
<polygon points="483.5,182.2 487.5,182.2 485.5,185.7" fill="#5a9a1a"/>
<polygon points="485.9,185.6 490.0,185.6 487.9,189.1" fill="#5a9a1a"/>
<polygon points="488.3,189.0 492.4,189.0 490.4,192.5" fill="#5a9a1a"/>
<polygon points="490.8,192.4 494.8,192.4 492.8,195.9" fill="#5a9a1a"/>
<polygon points="493.2,195.8 497.3,195.8 495.2,199.4" fill="#5a9a1a"/>
<polygon points="495.4,199.5 499.5,199.5 497.5,203.0" fill="#5a9a1a"/>
<polygon points="497.6,203.2 501.7,203.2 499.6,206.7" fill="#5a9a1a"/>
<polygon points="499.8,207.0 503.8,207.0 501.8,210.5" fill="#5a9a1a"/>
<polygon points="502.2,210.4 506.2,210.4 504.2,213.9" fill="#5a9a1a"/>
<polygon points="504.6,213.8 508.7,213.8 506.6,217.3" fill="#5a9a1a"/>
<polygon points="507.1,217.0 511.2,217.0 509.2,220.5" fill="#5a9a1a"/>
<polygon points="509.9,219.7 514.0,219.7 512.0,223.3" fill="#5a9a1a"/>
<polygon points="512.7,222.5 516.8,222.5 514.8,226.0" fill="#5a9a1a"/>
<polygon points="515.6,225.1 519.7,225.1 517.6,228.6" fill="#5a9a1a"/>
<polygon points="518.6,227.4 522.7,227.4 520.7,230.9" fill="#5a9a1a"/>
<polygon points="521.6,229.6 525.7,229.6 523.7,233.1" fill="#5a9a1a"/>
<polygon points="524.6,231.9 528.7,231.9 526.7,235.4" fill="#5a9a1a"/>
<polygon points="527.8,233.6 531.9,233.6 529.8,237.1" fill="#5a9a1a"/>
<polygon points="531.1,235.0 535.1,235.0 533.1,238.5" fill="#5a9a1a"/>
<polygon points="534.3,236.5 538.4,236.5 536.3,240.0" fill="#5a9a1a"/>
<polygon points="537.6,237.6 541.7,237.6 539.6,241.1" fill="#5a9a1a"/>
<polygon points="541.0,238.2 545.0,238.2 543.0,241.7" fill="#5a9a1a"/>
<polygon points="544.3,238.8 548.4,238.8 546.4,242.3" fill="#5a9a1a"/>
<polygon points="547.7,239.4 551.8,239.4 549.8,242.9" fill="#5a9a1a"/>
<polygon points="551.1,239.9 555.2,239.9 553.1,243.4" fill="#5a9a1a"/>
<polygon points="554.5,240.5 558.5,240.5 556.5,244.0" fill="#5a9a1a"/>
<polygon points="557.9,241.0 561.9,241.0 559.9,244.5" fill="#5a9a1a"/>
<rect x="464.6" y="162.9" width="2.9" height="2.9" fill="#fff" stroke="#9b4fc0" stroke-width="0.8"/>
<rect x="466.6" y="166.3" width="2.9" height="2.9" fill="#fff" stroke="#9b4fc0" stroke-width="0.8"/>
<rect x="468.7" y="169.8" width="2.9" height="2.9" fill="#fff" stroke="#9b4fc0" stroke-width="0.8"/>
<rect x="470.7" y="173.3" width="2.9" height="2.9" fill="#fff" stroke="#9b4fc0" stroke-width="0.8"/>
<rect x="472.7" y="176.8" width="2.9" height="2.9" fill="#fff" stroke="#9b4fc0" stroke-width="0.8"/>
<rect x="474.7" y="180.4" width="2.9" height="2.9" fill="#fff" stroke="#9b4fc0" stroke-width="0.8"/>
<rect x="476.6" y="184.2" width="2.9" height="2.9" fill="#fff" stroke="#9b4fc0" stroke-width="0.8"/>
<rect x="478.4" y="188.0" width="2.9" height="2.9" fill="#fff" stroke="#9b4fc0" stroke-width="0.8"/>
<rect x="479.9" y="192.4" width="2.9" height="2.9" fill="#fff" stroke="#9b4fc0" stroke-width="0.8"/>
<rect x="481.5" y="196.5" width="2.9" height="2.9" fill="#fff" stroke="#9b4fc0" stroke-width="0.8"/>
<rect x="483.5" y="200.0" width="2.9" height="2.9" fill="#fff" stroke="#9b4fc0" stroke-width="0.8"/>
<rect x="485.6" y="203.4" width="2.9" height="2.9" fill="#fff" stroke="#9b4fc0" stroke-width="0.8"/>
<rect x="487.7" y="206.7" width="2.9" height="2.9" fill="#fff" stroke="#9b4fc0" stroke-width="0.8"/>
<rect x="489.7" y="210.3" width="2.9" height="2.9" fill="#fff" stroke="#9b4fc0" stroke-width="0.8"/>
<rect x="491.2" y="214.5" width="2.9" height="2.9" fill="#fff" stroke="#9b4fc0" stroke-width="0.8"/>
<rect x="493.0" y="218.5" width="2.9" height="2.9" fill="#fff" stroke="#9b4fc0" stroke-width="0.8"/>
<rect x="495.0" y="221.9" width="2.9" height="2.9" fill="#fff" stroke="#9b4fc0" stroke-width="0.8"/>
<rect x="497.3" y="224.9" width="2.9" height="2.9" fill="#fff" stroke="#9b4fc0" stroke-width="0.8"/>
<rect x="499.7" y="227.3" width="2.9" height="2.9" fill="#fff" stroke="#9b4fc0" stroke-width="0.8"/>
<rect x="502.2" y="229.8" width="2.9" height="2.9" fill="#fff" stroke="#9b4fc0" stroke-width="0.8"/>
<rect x="504.7" y="231.8" width="2.9" height="2.9" fill="#fff" stroke="#9b4fc0" stroke-width="0.8"/>
<rect x="507.4" y="233.6" width="2.9" height="2.9" fill="#fff" stroke="#9b4fc0" stroke-width="0.8"/>
<rect x="510.0" y="235.3" width="2.9" height="2.9" fill="#fff" stroke="#9b4fc0" stroke-width="0.8"/>
<rect x="512.7" y="236.7" width="2.9" height="2.9" fill="#fff" stroke="#9b4fc0" stroke-width="0.8"/>
<rect x="515.4" y="237.8" width="2.9" height="2.9" fill="#fff" stroke="#9b4fc0" stroke-width="0.8"/>
<rect x="518.2" y="238.8" width="2.9" height="2.9" fill="#fff" stroke="#9b4fc0" stroke-width="0.8"/>
<rect x="520.9" y="239.8" width="2.9" height="2.9" fill="#fff" stroke="#9b4fc0" stroke-width="0.8"/>
<rect x="523.7" y="240.8" width="2.9" height="2.9" fill="#fff" stroke="#9b4fc0" stroke-width="0.8"/>
<rect x="526.4" y="241.7" width="2.9" height="2.9" fill="#fff" stroke="#9b4fc0" stroke-width="0.8"/>
<rect x="529.1" y="243.1" width="2.9" height="2.9" fill="#fff" stroke="#9b4fc0" stroke-width="0.8"/>
<rect x="464.6" y="150.6" width="2.9" height="2.9" fill="#f0a000"/>
<rect x="465.7" y="156.3" width="2.9" height="2.9" fill="#f0a000"/>
<rect x="467.2" y="161.8" width="2.9" height="2.9" fill="#f0a000"/>
<rect x="468.6" y="167.1" width="2.9" height="2.9" fill="#f0a000"/>
<rect x="470.1" y="172.5" width="2.9" height="2.9" fill="#f0a000"/>
<rect x="471.5" y="177.9" width="2.9" height="2.9" fill="#f0a000"/>
<rect x="472.8" y="183.5" width="2.9" height="2.9" fill="#f0a000"/>
<rect x="474.0" y="189.3" width="2.9" height="2.9" fill="#f0a000"/>
<rect x="475.8" y="194.1" width="2.9" height="2.9" fill="#f0a000"/>
<rect x="477.5" y="199.0" width="2.9" height="2.9" fill="#f0a000"/>
<rect x="478.7" y="204.6" width="2.9" height="2.9" fill="#f0a000"/>
<rect x="480.0" y="210.2" width="2.9" height="2.9" fill="#f0a000"/>
<rect x="481.5" y="215.6" width="2.9" height="2.9" fill="#f0a000"/>
<rect x="483.1" y="220.6" width="2.9" height="2.9" fill="#f0a000"/>
<rect x="485.0" y="225.0" width="2.9" height="2.9" fill="#f0a000"/>
<rect x="487.1" y="228.9" width="2.9" height="2.9" fill="#f0a000"/>
<rect x="489.3" y="232.2" width="2.9" height="2.9" fill="#f0a000"/>
<rect x="491.7" y="235.1" width="2.9" height="2.9" fill="#f0a000"/>
<rect x="494.1" y="237.5" width="2.9" height="2.9" fill="#f0a000"/>
<rect x="496.6" y="239.5" width="2.9" height="2.9" fill="#f0a000"/>
<rect x="499.0" y="241.3" width="2.9" height="2.9" fill="#f0a000"/>
<rect x="501.6" y="242.5" width="2.9" height="2.9" fill="#f0a000"/>
<rect x="504.2" y="243.7" width="2.9" height="2.9" fill="#f0a000"/>
<rect x="506.7" y="244.7" width="2.9" height="2.9" fill="#f0a000"/>
<rect x="509.3" y="245.7" width="2.9" height="2.9" fill="#f0a000"/>
<circle cx="464.6" cy="156.0" r="1.8" fill="#fff" stroke="#e0502a" stroke-width="0.85"/>
<circle cx="465.2" cy="160.9" r="1.8" fill="#fff" stroke="#e0502a" stroke-width="0.85"/>
<circle cx="465.8" cy="165.7" r="1.8" fill="#fff" stroke="#e0502a" stroke-width="0.85"/>
<circle cx="466.3" cy="170.6" r="1.8" fill="#fff" stroke="#e0502a" stroke-width="0.85"/>
<circle cx="466.9" cy="175.5" r="1.8" fill="#fff" stroke="#e0502a" stroke-width="0.85"/>
<circle cx="467.4" cy="180.4" r="1.8" fill="#fff" stroke="#e0502a" stroke-width="0.85"/>
<circle cx="467.9" cy="185.2" r="1.8" fill="#fff" stroke="#e0502a" stroke-width="0.85"/>
<circle cx="468.9" cy="189.7" r="1.8" fill="#fff" stroke="#e0502a" stroke-width="0.85"/>
<circle cx="470.4" cy="193.8" r="1.8" fill="#fff" stroke="#e0502a" stroke-width="0.85"/>
<circle cx="472.0" cy="197.6" r="1.8" fill="#fff" stroke="#e0502a" stroke-width="0.85"/>
<circle cx="473.4" cy="201.7" r="1.8" fill="#fff" stroke="#e0502a" stroke-width="0.85"/>
<circle cx="474.1" cy="206.4" r="1.8" fill="#fff" stroke="#e0502a" stroke-width="0.85"/>
<circle cx="474.2" cy="211.4" r="1.8" fill="#fff" stroke="#e0502a" stroke-width="0.85"/>
<circle cx="474.7" cy="216.3" r="1.8" fill="#fff" stroke="#e0502a" stroke-width="0.85"/>
<circle cx="475.5" cy="221.0" r="1.8" fill="#fff" stroke="#e0502a" stroke-width="0.85"/>
<circle cx="476.6" cy="225.5" r="1.8" fill="#fff" stroke="#e0502a" stroke-width="0.85"/>
<circle cx="477.8" cy="230.0" r="1.8" fill="#fff" stroke="#e0502a" stroke-width="0.85"/>
<circle cx="479.3" cy="234.0" r="1.8" fill="#fff" stroke="#e0502a" stroke-width="0.85"/>
<circle cx="480.8" cy="237.9" r="1.8" fill="#fff" stroke="#e0502a" stroke-width="0.85"/>
<circle cx="482.6" cy="241.4" r="1.8" fill="#fff" stroke="#e0502a" stroke-width="0.85"/>
<circle cx="484.8" cy="243.6" r="1.8" fill="#fff" stroke="#e0502a" stroke-width="0.85"/>
<circle cx="487.1" cy="245.6" r="1.8" fill="#fff" stroke="#e0502a" stroke-width="0.85"/>
<circle cx="489.5" cy="247.4" r="1.8" fill="#fff" stroke="#e0502a" stroke-width="0.85"/>
<circle cx="491.9" cy="248.6" r="1.8" fill="#fff" stroke="#e0502a" stroke-width="0.85"/>
<circle cx="464.6" cy="141.0" r="1.6" fill="#1060c0"/>
<circle cx="465.3" cy="146.2" r="1.6" fill="#1060c0"/>
<circle cx="465.5" cy="151.3" r="1.6" fill="#1060c0"/>
<circle cx="465.7" cy="156.5" r="1.6" fill="#1060c0"/>
<circle cx="465.8" cy="161.7" r="1.6" fill="#1060c0"/>
<circle cx="465.9" cy="166.9" r="1.6" fill="#1060c0"/>
<circle cx="466.1" cy="172.1" r="1.6" fill="#1060c0"/>
<circle cx="466.6" cy="177.3" r="1.6" fill="#1060c0"/>
<circle cx="467.4" cy="182.4" r="1.6" fill="#1060c0"/>
<circle cx="467.6" cy="187.6" r="1.6" fill="#1060c0"/>
<circle cx="468.0" cy="192.8" r="1.6" fill="#1060c0"/>
<circle cx="468.4" cy="198.0" r="1.6" fill="#1060c0"/>
<circle cx="468.8" cy="203.2" r="1.6" fill="#1060c0"/>
<circle cx="469.0" cy="208.4" r="1.6" fill="#1060c0"/>
<circle cx="469.3" cy="216.0" r="1.6" fill="#1060c0"/>
<circle cx="469.8" cy="218.4" r="1.6" fill="#1060c0"/>
<circle cx="470.2" cy="220.7" r="1.6" fill="#1060c0"/>
<circle cx="470.7" cy="223.1" r="1.6" fill="#1060c0"/>
<circle cx="471.2" cy="225.4" r="1.6" fill="#1060c0"/>
<circle cx="471.7" cy="227.8" r="1.6" fill="#1060c0"/>
<circle cx="472.2" cy="230.1" r="1.6" fill="#1060c0"/>
<circle cx="472.7" cy="232.5" r="1.6" fill="#1060c0"/>
<circle cx="473.2" cy="234.8" r="1.6" fill="#1060c0"/>
<circle cx="473.7" cy="237.1" r="1.6" fill="#1060c0"/>
<circle cx="474.2" cy="239.5" r="1.6" fill="#1060c0"/>
<text x="471" y="247.5" font-family="'Liberation Sans', sans-serif" font-size="6.1" fill="#111" font-weight="bold" font-style="normal" text-anchor="start" textLength="10.8" lengthAdjust="spacingAndGlyphs" >77 K</text>
<text x="487.4" y="255.5" font-family="'Liberation Sans', sans-serif" font-size="6.1" fill="#111" font-weight="bold" font-style="normal" text-anchor="start" textLength="10.8" lengthAdjust="spacingAndGlyphs" >70 K</text>
<text x="511" y="256" font-family="'Liberation Sans', sans-serif" font-size="6.1" fill="#111" font-weight="bold" font-style="normal" text-anchor="start" textLength="10.8" lengthAdjust="spacingAndGlyphs" >60 K</text>
<text x="530.2" y="254" font-family="'Liberation Sans', sans-serif" font-size="6.1" fill="#111" font-weight="bold" font-style="normal" text-anchor="start" textLength="10.8" lengthAdjust="spacingAndGlyphs" >50 K</text>
<text x="559" y="250.5" font-family="'Liberation Sans', sans-serif" font-size="6.1" fill="#111" font-weight="bold" font-style="normal" text-anchor="start" textLength="10.8" lengthAdjust="spacingAndGlyphs" >40 K</text>
<text x="586.8" y="248.5" font-family="'Liberation Sans', sans-serif" font-size="6.1" fill="#111" font-weight="bold" font-style="normal" text-anchor="start" textLength="10.8" lengthAdjust="spacingAndGlyphs" >20 K</text>
<rect x="544.4" y="139.6" width="66.3" height="64.1" fill="#fff" stroke="#444" stroke-width="0.8"/>
<line x1="560.7" y1="203.7" x2="560.7" y2="202.2" stroke="#444" stroke-width="0.6" />
<line x1="560.7" y1="139.6" x2="560.7" y2="141.1" stroke="#444" stroke-width="0.6" />
<line x1="576.4" y1="203.7" x2="576.4" y2="202.2" stroke="#444" stroke-width="0.6" />
<line x1="576.4" y1="139.6" x2="576.4" y2="141.1" stroke="#444" stroke-width="0.6" />
<line x1="592.1" y1="203.7" x2="592.1" y2="202.2" stroke="#444" stroke-width="0.6" />
<line x1="592.1" y1="139.6" x2="592.1" y2="141.1" stroke="#444" stroke-width="0.6" />
<line x1="607.8" y1="203.7" x2="607.8" y2="202.2" stroke="#444" stroke-width="0.6" />
<line x1="607.8" y1="139.6" x2="607.8" y2="141.1" stroke="#444" stroke-width="0.6" />
<line x1="544.4" y1="190.88" x2="545.9" y2="190.88" stroke="#444" stroke-width="0.6" />
<line x1="610.7" y1="190.88" x2="609.2" y2="190.88" stroke="#444" stroke-width="0.6" />
<line x1="544.4" y1="178.06" x2="545.9" y2="178.06" stroke="#444" stroke-width="0.6" />
<line x1="610.7" y1="178.06" x2="609.2" y2="178.06" stroke="#444" stroke-width="0.6" />
<line x1="544.4" y1="165.23999999999998" x2="545.9" y2="165.23999999999998" stroke="#444" stroke-width="0.6" />
<line x1="610.7" y1="165.23999999999998" x2="609.2" y2="165.23999999999998" stroke="#444" stroke-width="0.6" />
<line x1="544.4" y1="152.42" x2="545.9" y2="152.42" stroke="#444" stroke-width="0.6" />
<line x1="610.7" y1="152.42" x2="609.2" y2="152.42" stroke="#444" stroke-width="0.6" />
<text x="545.0" y="212.8" font-family="'Liberation Sans', sans-serif" font-size="7.2" fill="#222" font-weight="normal" font-style="normal" text-anchor="middle" >0</text>
<text x="560.7" y="212.8" font-family="'Liberation Sans', sans-serif" font-size="7.2" fill="#222" font-weight="normal" font-style="normal" text-anchor="middle" >20</text>
<text x="576.4" y="212.8" font-family="'Liberation Sans', sans-serif" font-size="7.2" fill="#222" font-weight="normal" font-style="normal" text-anchor="middle" >40</text>
<text x="592.1" y="212.8" font-family="'Liberation Sans', sans-serif" font-size="7.2" fill="#222" font-weight="normal" font-style="normal" text-anchor="middle" >60</text>
<text x="607.8" y="212.8" font-family="'Liberation Sans', sans-serif" font-size="7.2" fill="#222" font-weight="normal" font-style="normal" text-anchor="middle" >80</text>
<text x="542" y="206.29999999999998" font-family="'Liberation Sans', sans-serif" font-size="7.2" fill="#222" font-weight="normal" font-style="normal" text-anchor="end" >0</text>
<text x="542" y="193.48" font-family="'Liberation Sans', sans-serif" font-size="7.2" fill="#222" font-weight="normal" font-style="normal" text-anchor="end" >0.5</text>
<text x="542" y="180.66" font-family="'Liberation Sans', sans-serif" font-size="7.2" fill="#222" font-weight="normal" font-style="normal" text-anchor="end" >1</text>
<text x="542" y="167.83999999999997" font-family="'Liberation Sans', sans-serif" font-size="7.2" fill="#222" font-weight="normal" font-style="normal" text-anchor="end" >1.5</text>
<text x="542" y="155.01999999999998" font-family="'Liberation Sans', sans-serif" font-size="7.2" fill="#222" font-weight="normal" font-style="normal" text-anchor="end" >2</text>
<text x="542" y="142.2" font-family="'Liberation Sans', sans-serif" font-size="7.2" fill="#222" font-weight="normal" font-style="normal" text-anchor="end" >2.5</text>
<text x="568.5" y="224" font-family="'Liberation Sans', sans-serif" font-size="7.4" fill="#222"><tspan font-style="italic">T</tspan> (K)</text>
<text transform="translate(531,183.5) rotate(-90)" font-family="'Liberation Sans', sans-serif" font-size="7.2" fill="#222"><tspan font-style="italic">B</tspan><tspan font-size="5" dy="1.6">lim</tspan><tspan dy="-1.6"> (T)</tspan></text>
<polyline points="560.7,142.2 576.4,169.1 584.2,180.6 592.1,187.8 601.5,192.9 607.8,198.6" fill="none" stroke="#111" stroke-width="0.7"/>
<polygon points="558.7,143.8 562.7,143.8 560.7,140.0" fill="#000"/>
<polygon points="574.4,170.7 578.4,170.7 576.4,166.9" fill="#000"/>
<polygon points="582.2,182.2 586.2,182.2 584.2,178.4" fill="#000"/>
<polygon points="590.1,189.4 594.1,189.4 592.1,185.6" fill="#000"/>
<polygon points="599.5,194.5 603.5,194.5 601.5,190.7" fill="#000"/>
<polygon points="605.8,200.2 609.8,200.2 607.8,196.4" fill="#000"/>
<polyline points="560.7,164.7 576.4,183.7 584.2,190.9 592.1,194.2 601.5,198.1 607.8,200.6" fill="none" stroke="#111" stroke-width="0.7"/>
<circle cx="560.7" cy="164.7" r="1.7" fill="#000"/>
<circle cx="576.4" cy="183.7" r="1.7" fill="#000"/>
<circle cx="584.2" cy="190.9" r="1.7" fill="#000"/>
<circle cx="592.1" cy="194.2" r="1.7" fill="#000"/>
<circle cx="601.5" cy="198.1" r="1.7" fill="#000"/>
<circle cx="607.8" cy="200.6" r="1.7" fill="#000"/>
<text x="581" y="151.5" font-family="'Liberation Sans', sans-serif" font-size="7.4" fill="#111"><tspan font-style="italic">SF</tspan> = 10</text>
<line x1="569" y1="148.8" x2="577" y2="148.8" stroke="#111" stroke-width="0.7" />
<polygon points="566.50,148.80 568.90,147.70 568.90,149.90" fill="#111"/>
<text x="546.3" y="201" font-family="'Liberation Sans', sans-serif" font-size="7.4" fill="#111"><tspan font-style="italic">SF</tspan> = 100</text>
<line x1="569.5" y1="196" x2="574.5" y2="191.5" stroke="#111" stroke-width="0.7" />
<polygon points="576.50,190.00 575.24,192.32 573.92,190.56" fill="#111"/>
</svg>
</body></html>
